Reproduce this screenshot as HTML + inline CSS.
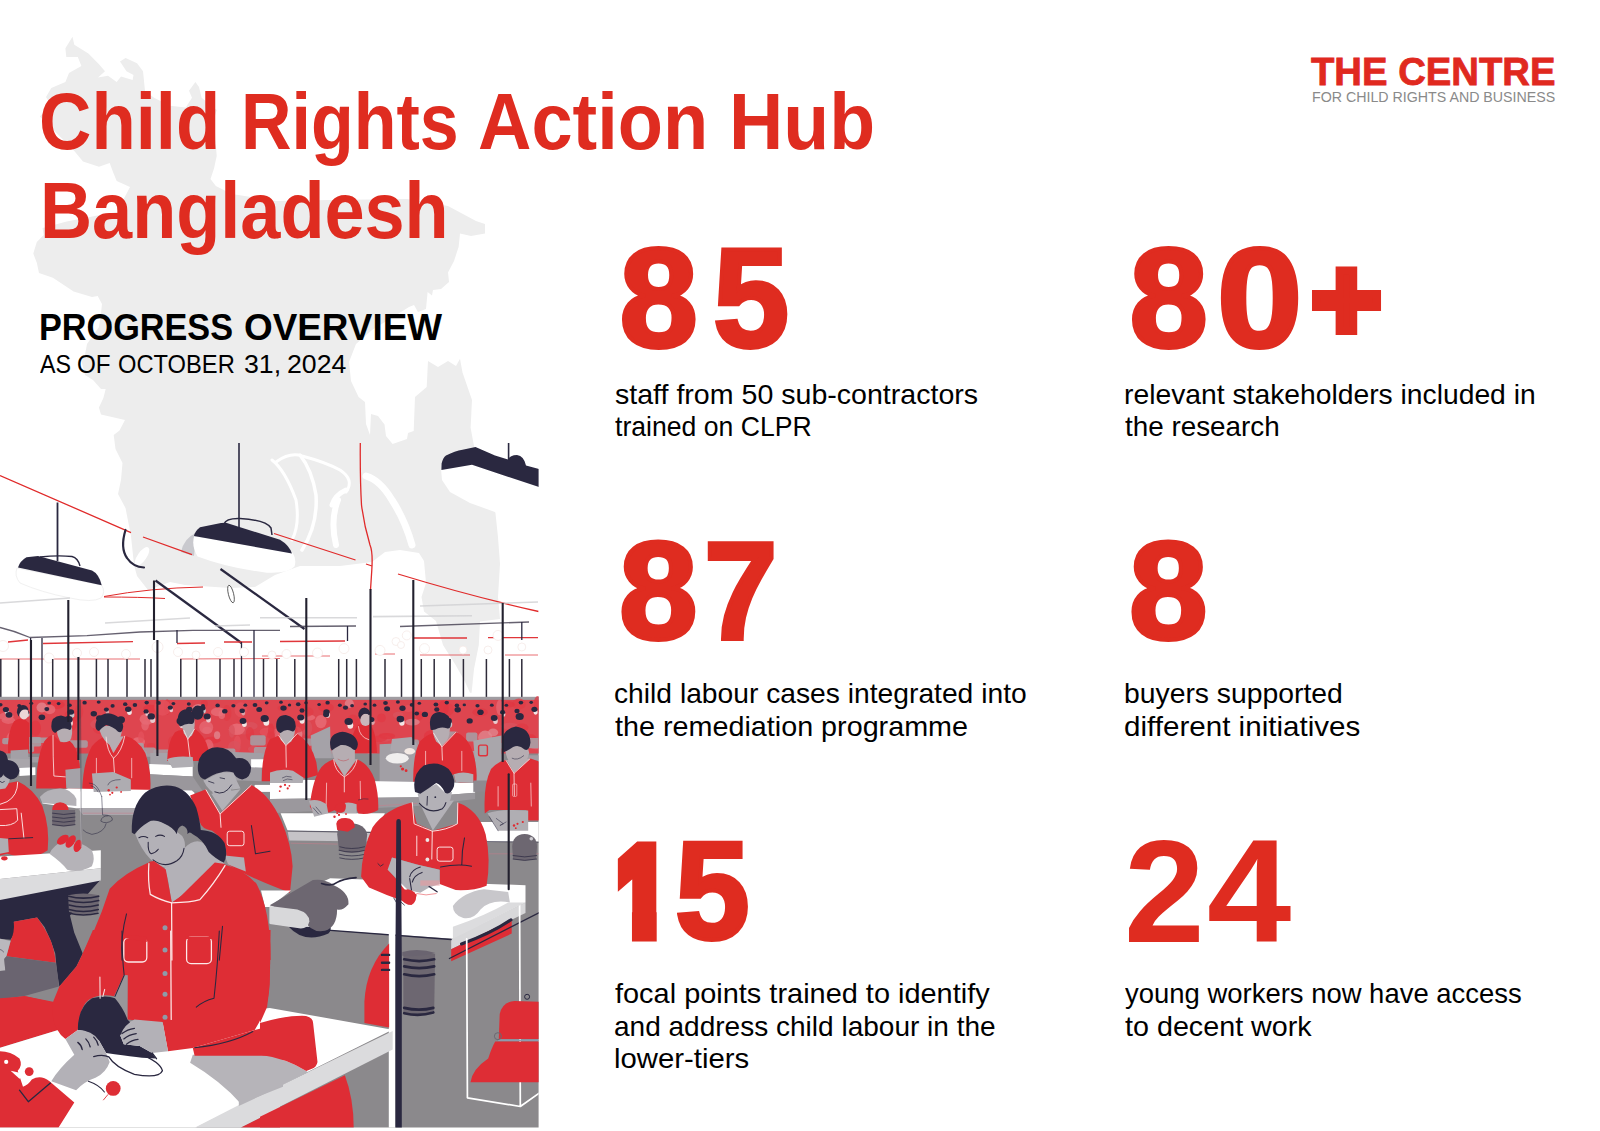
<!DOCTYPE html>
<html lang="en"><head><meta charset="utf-8"><title>Child Rights Action Hub Bangladesh</title>
<style>
html,body{margin:0;padding:0;background:#fff}
body{width:1600px;height:1131px;position:relative;overflow:hidden;font-family:"Liberation Sans",sans-serif}
.t{position:absolute;white-space:nowrap;transform-origin:0 0;margin:0;padding:0}
.n span{position:absolute;top:0;transform-origin:0 0;display:block}
svg{position:absolute;left:0;top:0}
</style></head><body>
<svg width="1600" height="1131" viewBox="0 0 1600 1131">
<defs><clipPath id="ic"><rect x="0" y="443" width="538.6" height="684.6"/></clipPath></defs>
<path fill="#ededed" d="M72.5 36.8 L74.3 44.8 L88.4 53.6 L99 64.2 L105 71.3 L98 77.5 L108 75.7 L116.7 82 L121 76.6 L132.6 80 L133.5 75 L126.5 71.3 L120 61.6 L125.6 58 L137 63.3 L143 71.3 L145 90.7 L154 97.8 L170 105.8 L185.7 107.5 L192 97.8 L189 90.7 L195.4 82 L199 87 L201.6 97.8 L216.7 110 L214 119 L215.8 143.8 L216.7 156 L214 168.6 L210.5 179 L215.8 186 L231.7 194 L276 201 L329 200 L407 199 L448 206 L476 221 L485 224 L485 233.5 L471 236 L460 233.5 L458.6 247 L454 261 L448 272.6 L449 282 L441 289 L433 290 L432 295.6 L427.6 292 L426 309 L418 312 L414 305 L409 307 L372 330 L356 344 L349 362 L351 381 L358.6 397 L365 402 L366 424 L370 435 L371 414 L378 416 L384.5 424.5 L386 436 L392.6 444 L407 439 L408 433 L413.7 431 L415 397 L426.7 387 L428 361 L438 367 L448 361 L456 366 L460 358.7 L462.5 372.5 L472 400 L470.6 427.7 L474 446 L486 470 L495.5 513.6 L498 537.5 L500 563.7 L498 597 L500 619 L480 621.5 L478.8 645 L474 669 L471.6 692.7 L470 692.7 L464.5 680.7 L455 664 L443 645 L436 621 L424 611.5 L421.5 597 L426 583 L424 561 L419 553 L400 550 L385 552 L372 562 L340 566 L300 566 L275 575 L255 587 L230 588 L200 586 L185 585 L170 582 L148 590 L137 576 L134 565 L131 536 L125.5 508 L118 494 L121 480 L122.5 463 L115.5 449 L113.7 435 L119.5 430.6 L125 420 L101 414.5 L98.9 407.6 L103.4 398 L105.7 389 L101 389 L93 380 L85 375 L81.6 361.6 L85 354.7 L87 344 L99 327 L101 313 L102 304 L97.7 296 L92 297 L73.6 291.5 L52.9 277.7 L39 273 L36.8 262.8 L33.3 253.6 L36.8 242 L43.7 235 L42.5 228 L66.7 221.4 L100 215 L122 211 L124 198.6 L130 187 L116.7 181 L113 172 L109.7 163 L99 166.8 L83 161.5 L74.3 151 L58.4 135 L39.8 116.4 L51 105 L46 97 L51.3 88 L65.4 82 L69 73 L81.4 66 L77.8 57.1 L66.3 57.1 L65.4 48.3 Z"/>
<g clip-path="url(#ic)">
<g fill="none" stroke="#fff" stroke-linecap="round" stroke-linejoin="round">
<path stroke-width="3" d="M272 460 Q285 470 296 500 Q300 525 292 540"/>
<path stroke-width="3.5" d="M300 455 Q312 470 316 495 Q318 525 302 550"/>
<path stroke-width="3" d="M276 462 Q290 452 302 456 Q325 462 340 470 Q355 480 346 492"/>
<path stroke-width="6" d="M338 500 Q330 520 336 545"/>
<path stroke-width="7" d="M366 476 Q380 480 392 500 Q405 520 412 545"/>
<path stroke-width="5" d="M346 490 Q335 495 332 505"/>
</g>
<path fill="#fff" d="M140 575 L160 590 L200 592 L300 560 L372 560 L414 552 L420 600 L440 660 L0 660 L0 575 Z" opacity="0"/>
<path fill="#fff" d="M441 469 L472 464 L539 486 L539 528 L520 521 L470 503 L450 492 L442 480 Z"/>
<path fill="#2a2840" d="M441.4 470 L441.6 463.5 Q443 457.5 446 455.4 Q455 451 462.5 449.7 L475.5 447 L495 455.4 L508 459.6 Q510 455 517 455 Q524 456 526 465.5 L539 469 L539 487 L472 464.8 Z"/>
<path stroke="#2a2840" stroke-width="1.6" fill="none" d="M508.6 443 V461"/>
<path fill="#c9c9ce" d="M196 533 Q184 538 181 552 L194 556 Z"/>
<path fill="#fff" d="M194.1 536.3 Q191.3 546.5 197.6 556.4 Q227.3 567.7 266.9 572.7 Q288.2 573.7 294.5 566.6 Q296.9 559.2 292.4 552.4 Z"/>
<path fill="#2a2840" d="M194 536 Q195 531 200 527.3 L221 523 L226 522.7 L280 539.7 Q289 545 292 553.5 Z"/>
<path stroke="#2a2840" stroke-width="1.6" fill="none" d="M239 443 V529"/>
<path stroke="#2a2840" stroke-width="1.5" fill="none" d="M224 524 Q226 518 240 518.5 Q266 520 271 528 L272 535"/>
<path fill="#fff" stroke="#f1f1f1" stroke-width="1" d="M17 568 L101.5 585 Q106 592 101 598 Q92 603 70 598 Q40 592 20 583 Q14 576 17 568 Z"/>
<path fill="#2a2840" d="M18 567.5 Q20 561 26.5 557.3 L38 556 L92 570.6 Q99 574 101.7 585.3 Z"/>
<path stroke="#2a2840" stroke-width="1.8" fill="none" d="M57.5 502.5 V561"/>
<path stroke="#2a2840" stroke-width="1.4" fill="none" d="M40 557 Q58 555 72 556.5 Q78 558 80 566"/>
<g fill="none" stroke="#e02a2a" stroke-width="1.3">
<path d="M0 475.5 L131 532.6 M143 537 L192 554.7"/>
<path d="M274 533.5 L355.5 560 M366 564 L372 566"/>
<path d="M398 574 Q470 596 538.6 611.5"/>
<path d="M360.3 443 Q360 480 361.5 505 Q364 525 370 545 Q373 552 371.8 570 L370.5 590"/>
<path stroke-width="1" d="M104 596.5 Q150 588 203 587 M104 597 Q140 597 165 598.5"/>
</g>
<ellipse cx="142" cy="556.5" rx="4.5" ry="11" transform="rotate(35 142 556.5)" fill="#fff"/>
<path stroke="#2a2840" stroke-width="2.2" fill="none" stroke-linecap="round" d="M125.5 530 Q120 548 127 558 Q133 567 144 567.5"/>
<ellipse cx="231" cy="594" rx="2.6" ry="9" transform="rotate(-14 231 594)" fill="#fff" stroke="#444" stroke-width="0.8"/>
<g stroke="#2a2840" stroke-width="2.2" fill="none"><path d="M155.5 580.5 L241.5 643"/><path d="M220.5 569 L304.5 629"/></g>
<g fill="none" stroke="#555060" stroke-width="1.3" opacity="0.9">
<path d="M0 627.5 Q15 631 30 637.5 L87 635.6 L140 632 L193 630.4 L280 630.4"/>
<path d="M290 626.5 L356 626 M400 626.5 L529 622"/>
</g>
<g fill="none" stroke="#cfcfd2" stroke-width="1.6" opacity="0.8">
<path d="M0 603 L70 598 M105 623 L190 618 M215 626 L250 625 M260 617.7 L357 617.7 M373 616.6 L472 615.7 M420 606 L538 602"/>
</g>
<g fill="none" stroke="#e0363a" stroke-width="1.3">
<path d="M43 643.5 L133 641.7 M177 643.5 L205 643 M224 642 L252 642 M280 641.5 L345 641 M414 638 L467 638 M488 637.7 L538 637.7 M8 642 L28 640"/>
<path stroke-width="0.9" opacity="0.8" d="M0 659 L140 659 M180 659 L280 658.5 M262 656 L330 656 M375 654 L395 654 M420 655 L470 655 M505 655 L538 655"/>
</g>
<g stroke="#2a2840" stroke-width="1.3" fill="none">
<path d="M30.6 638 V697"/>
<path d="M42 638 V697"/>
<path d="M347.5 626 V641"/>
<path d="M177 630 V643"/>
<path d="M254 630 V697"/>
<path d="M241.5 642 V697"/>
<path d="M521.8 622 V640"/>
</g>
<g fill="#fff" stroke="#f3e6e4" stroke-width="0.7">
<circle cx="3" cy="646" r="5.5"/>
<circle cx="49" cy="658" r="5"/>
<circle cx="77" cy="653" r="4.5"/>
<circle cx="94" cy="652" r="4.5"/>
<circle cx="126" cy="654" r="4.5"/>
<circle cx="157.5" cy="647" r="5.5"/>
<circle cx="178" cy="652" r="4.5"/>
<circle cx="196" cy="655" r="4"/>
<circle cx="218" cy="652" r="4.5"/>
<circle cx="244" cy="652" r="4.5"/>
<circle cx="272" cy="655" r="4"/>
<circle cx="286.5" cy="654" r="4.5"/>
<circle cx="317.5" cy="653" r="5"/>
<circle cx="344" cy="648.6" r="5"/>
<circle cx="380" cy="650.4" r="5"/>
<circle cx="396" cy="641.5" r="4"/>
<circle cx="406.8" cy="635.4" r="4.5"/>
<circle cx="401" cy="645" r="3.5"/>
<circle cx="424.5" cy="648.6" r="5"/>
<circle cx="463" cy="650" r="4"/>
<circle cx="488" cy="650" r="4"/>
<circle cx="498" cy="635.4" r="5"/>
<circle cx="521.8" cy="647" r="4"/>
</g>
<!--BP-->
<g stroke="#2e2b39" stroke-width="1.5" fill="none">
<path d="M18.6 659 V698"/>
<path d="M52.7 659 V698"/>
<path d="M96.4 659 V698"/>
<path d="M108 659 V698"/>
<path d="M127 659 V698"/>
<path d="M145 659 V698"/>
<path d="M151 659 V698"/>
<path d="M180.8 659 V698"/>
<path d="M196.7 659 V698"/>
<path d="M220 659 V698"/>
<path d="M234 659 V698"/>
<path d="M263.5 659 V698"/>
<path d="M276.8 659 V698"/>
<path d="M294.8 659 V698"/>
<path d="M338.7 659 V698"/>
<path d="M346.7 659 V698"/>
<path d="M356.4 659 V698"/>
<path d="M385 659 V698"/>
<path d="M401.5 659 V698"/>
<path d="M421.3 659 V698"/>
<path d="M434.2 659 V698"/>
<path d="M450 659 V698"/>
<path d="M463.4 659 V698"/>
<path d="M486.4 659 V698"/>
<path d="M509.4 659 V698"/>
<path d="M521.8 659 V698"/>
<path d="M0.8 659 V698"/>
</g>
<rect x="0" y="697" width="539" height="431" fill="#8b898c"/>
<rect x="0" y="699.5" width="539" height="54" fill="#de454f"/>
<rect x="0" y="696.8" width="539" height="3" fill="#a09da2"/>
<ellipse cx="243.8" cy="729.3" rx="8.5" ry="5.3" fill="#d9535e" opacity="0.75"/>
<ellipse cx="99.5" cy="727.1" rx="6.8" ry="7.0" fill="#e03a44" opacity="0.75"/>
<ellipse cx="240.7" cy="709.7" rx="6.2" ry="7.5" fill="#e4525c" opacity="0.75"/>
<ellipse cx="320.9" cy="721.6" rx="5.7" ry="6.7" fill="#e8707a" opacity="0.75"/>
<ellipse cx="335.9" cy="742.1" rx="3.4" ry="3.2" fill="#d9535e" opacity="0.75"/>
<ellipse cx="323.2" cy="739.6" rx="5.0" ry="6.0" fill="#d9535e" opacity="0.75"/>
<ellipse cx="279.8" cy="733.1" rx="6.0" ry="6.3" fill="#e66a74" opacity="0.75"/>
<ellipse cx="352.9" cy="722.1" rx="6.3" ry="7.7" fill="#e03a44" opacity="0.75"/>
<ellipse cx="381.5" cy="717.8" rx="4.4" ry="4.4" fill="#e03a44" opacity="0.75"/>
<ellipse cx="303.5" cy="708.1" rx="3.6" ry="4.5" fill="#e03a44" opacity="0.75"/>
<ellipse cx="516.4" cy="742.8" rx="3.0" ry="4.0" fill="#e4525c" opacity="0.75"/>
<ellipse cx="253.3" cy="749.1" rx="5.4" ry="3.4" fill="#d9535e" opacity="0.75"/>
<ellipse cx="419.6" cy="715.7" rx="3.5" ry="4.7" fill="#e23540" opacity="0.75"/>
<ellipse cx="408.6" cy="708.5" rx="4.5" ry="3.5" fill="#e4525c" opacity="0.75"/>
<ellipse cx="250.6" cy="725.9" rx="7.1" ry="3.9" fill="#d9535e" opacity="0.75"/>
<ellipse cx="531.1" cy="739.2" rx="5.5" ry="4.9" fill="#e23540" opacity="0.75"/>
<ellipse cx="226.8" cy="713.0" rx="4.6" ry="7.9" fill="#e03c46" opacity="0.75"/>
<ellipse cx="537.9" cy="703.9" rx="4.1" ry="8.0" fill="#e03a44" opacity="0.75"/>
<ellipse cx="22.7" cy="709.9" rx="5.6" ry="3.0" fill="#e08a92" opacity="0.75"/>
<ellipse cx="447.5" cy="721.1" rx="3.4" ry="4.0" fill="#d9535e" opacity="0.75"/>
<ellipse cx="8.4" cy="720.3" rx="6.7" ry="3.6" fill="#e66a74" opacity="0.75"/>
<ellipse cx="448.6" cy="709.4" rx="5.3" ry="6.1" fill="#e03c46" opacity="0.75"/>
<ellipse cx="489.6" cy="741.4" rx="4.5" ry="3.9" fill="#d9535e" opacity="0.75"/>
<ellipse cx="370.3" cy="721.2" rx="5.9" ry="3.4" fill="#e4525c" opacity="0.75"/>
<ellipse cx="56.0" cy="704.8" rx="8.8" ry="4.2" fill="#e23540" opacity="0.75"/>
<ellipse cx="138.5" cy="741.7" rx="6.6" ry="4.5" fill="#e8707a" opacity="0.75"/>
<ellipse cx="500.9" cy="748.9" rx="3.8" ry="5.4" fill="#e03a44" opacity="0.75"/>
<ellipse cx="151.0" cy="746.1" rx="4.2" ry="3.1" fill="#e03c46" opacity="0.75"/>
<ellipse cx="221.8" cy="714.7" rx="3.3" ry="4.4" fill="#e8707a" opacity="0.75"/>
<ellipse cx="49.7" cy="709.5" rx="5.7" ry="4.7" fill="#e8707a" opacity="0.75"/>
<ellipse cx="317.9" cy="746.4" rx="5.8" ry="4.8" fill="#e03c46" opacity="0.75"/>
<ellipse cx="518.9" cy="704.0" rx="6.8" ry="5.4" fill="#e03c46" opacity="0.75"/>
<ellipse cx="171.9" cy="750.0" rx="3.5" ry="5.7" fill="#e4525c" opacity="0.75"/>
<ellipse cx="485.2" cy="737.6" rx="7.2" ry="7.0" fill="#e08a92" opacity="0.75"/>
<ellipse cx="189.6" cy="735.2" rx="8.4" ry="7.4" fill="#e23540" opacity="0.75"/>
<ellipse cx="508.9" cy="704.4" rx="6.0" ry="3.1" fill="#e23540" opacity="0.75"/>
<ellipse cx="204.4" cy="703.6" rx="3.4" ry="3.5" fill="#e03a44" opacity="0.75"/>
<ellipse cx="535.4" cy="744.4" rx="7.4" ry="4.9" fill="#e66a74" opacity="0.75"/>
<ellipse cx="237.4" cy="742.4" rx="3.5" ry="6.8" fill="#e4525c" opacity="0.75"/>
<ellipse cx="167.2" cy="707.1" rx="3.1" ry="7.8" fill="#e03a44" opacity="0.75"/>
<ellipse cx="268.0" cy="731.9" rx="8.5" ry="4.3" fill="#e4525c" opacity="0.75"/>
<ellipse cx="198.3" cy="709.7" rx="6.7" ry="5.6" fill="#e08a92" opacity="0.75"/>
<ellipse cx="355.7" cy="723.8" rx="8.4" ry="4.6" fill="#e03c46" opacity="0.75"/>
<ellipse cx="107.0" cy="723.3" rx="7.8" ry="7.6" fill="#d9535e" opacity="0.75"/>
<ellipse cx="207.2" cy="730.4" rx="4.9" ry="3.7" fill="#e66a74" opacity="0.75"/>
<ellipse cx="189.1" cy="745.1" rx="3.2" ry="3.3" fill="#e03c46" opacity="0.75"/>
<ellipse cx="443.0" cy="708.3" rx="5.8" ry="7.6" fill="#e23540" opacity="0.75"/>
<ellipse cx="206.2" cy="727.4" rx="7.0" ry="6.6" fill="#e66a74" opacity="0.75"/>
<ellipse cx="172.7" cy="742.0" rx="4.7" ry="6.0" fill="#e03c46" opacity="0.75"/>
<ellipse cx="307.5" cy="717.5" rx="7.7" ry="3.1" fill="#e8707a" opacity="0.75"/>
<ellipse cx="218.4" cy="711.9" rx="7.6" ry="4.3" fill="#e8707a" opacity="0.75"/>
<ellipse cx="429.5" cy="749.2" rx="3.7" ry="3.5" fill="#e08a92" opacity="0.75"/>
<ellipse cx="516.6" cy="735.2" rx="4.2" ry="5.4" fill="#e8707a" opacity="0.75"/>
<ellipse cx="385.0" cy="738.5" rx="6.2" ry="3.2" fill="#d9535e" opacity="0.75"/>
<ellipse cx="146.8" cy="719.2" rx="7.2" ry="5.6" fill="#e8707a" opacity="0.75"/>
<ellipse cx="212.1" cy="740.2" rx="8.4" ry="3.4" fill="#e23540" opacity="0.75"/>
<ellipse cx="70.0" cy="724.3" rx="6.8" ry="7.5" fill="#e23540" opacity="0.75"/>
<ellipse cx="296.5" cy="733.7" rx="6.0" ry="7.1" fill="#e08a92" opacity="0.75"/>
<ellipse cx="249.9" cy="733.6" rx="4.2" ry="6.6" fill="#e03a44" opacity="0.75"/>
<ellipse cx="115.0" cy="745.3" rx="8.9" ry="7.9" fill="#e08a92" opacity="0.75"/>
<ellipse cx="141.2" cy="736.8" rx="3.1" ry="5.5" fill="#e4525c" opacity="0.75"/>
<ellipse cx="237.6" cy="728.9" rx="7.6" ry="5.4" fill="#e4525c" opacity="0.75"/>
<ellipse cx="117.7" cy="743.8" rx="5.6" ry="3.2" fill="#e08a92" opacity="0.75"/>
<ellipse cx="370.1" cy="746.1" rx="5.8" ry="8.0" fill="#e66a74" opacity="0.75"/>
<ellipse cx="509.8" cy="726.2" rx="8.7" ry="3.4" fill="#d9535e" opacity="0.75"/>
<ellipse cx="236.8" cy="729.3" rx="8.0" ry="5.8" fill="#e8707a" opacity="0.75"/>
<ellipse cx="281.8" cy="742.7" rx="6.4" ry="4.6" fill="#e23540" opacity="0.75"/>
<ellipse cx="514.6" cy="743.9" rx="6.7" ry="4.5" fill="#e8707a" opacity="0.75"/>
<ellipse cx="522.0" cy="727.6" rx="6.4" ry="4.0" fill="#e03a44" opacity="0.75"/>
<ellipse cx="271.2" cy="731.4" rx="3.2" ry="7.8" fill="#e23540" opacity="0.75"/>
<ellipse cx="293.2" cy="749.5" rx="3.7" ry="3.5" fill="#e8707a" opacity="0.75"/>
<ellipse cx="35.5" cy="728.3" rx="5.5" ry="7.8" fill="#e23540" opacity="0.75"/>
<ellipse cx="145.1" cy="725.2" rx="3.8" ry="5.2" fill="#e66a74" opacity="0.75"/>
<ellipse cx="283.0" cy="708.1" rx="5.5" ry="3.1" fill="#e03c46" opacity="0.75"/>
<ellipse cx="69.8" cy="739.6" rx="3.1" ry="4.0" fill="#d9535e" opacity="0.75"/>
<ellipse cx="6.4" cy="716.4" rx="7.3" ry="4.2" fill="#e66a74" opacity="0.75"/>
<ellipse cx="56.5" cy="737.4" rx="3.7" ry="5.6" fill="#e03c46" opacity="0.75"/>
<ellipse cx="386.8" cy="736.0" rx="8.3" ry="3.1" fill="#e23540" opacity="0.75"/>
<ellipse cx="444.8" cy="731.9" rx="6.2" ry="7.3" fill="#d9535e" opacity="0.75"/>
<ellipse cx="285.5" cy="743.0" rx="6.7" ry="7.3" fill="#d9535e" opacity="0.75"/>
<ellipse cx="493.1" cy="732.5" rx="5.1" ry="3.9" fill="#e08a92" opacity="0.75"/>
<ellipse cx="480.1" cy="712.2" rx="7.7" ry="4.0" fill="#e03a44" opacity="0.75"/>
<ellipse cx="72.2" cy="714.2" rx="7.4" ry="4.3" fill="#e03a44" opacity="0.75"/>
<ellipse cx="234.4" cy="747.2" rx="6.3" ry="6.5" fill="#d9535e" opacity="0.75"/>
<ellipse cx="217.1" cy="735.2" rx="3.1" ry="4.0" fill="#e08a92" opacity="0.75"/>
<ellipse cx="491.2" cy="748.5" rx="3.7" ry="5.5" fill="#e08a92" opacity="0.75"/>
<ellipse cx="271.0" cy="735.2" rx="4.1" ry="3.4" fill="#e03a44" opacity="0.75"/>
<ellipse cx="13.1" cy="738.8" rx="6.7" ry="7.5" fill="#e66a74" opacity="0.75"/>
<ellipse cx="79.0" cy="711.7" rx="4.2" ry="7.2" fill="#e03c46" opacity="0.75"/>
<ellipse cx="499.6" cy="707.5" rx="3.4" ry="7.8" fill="#e66a74" opacity="0.75"/>
<ellipse cx="41.8" cy="707.5" rx="5.3" ry="5.1" fill="#e08a92" opacity="0.75"/>
<ellipse cx="231.8" cy="731.2" rx="3.1" ry="6.5" fill="#d9535e" opacity="0.75"/>
<ellipse cx="97.7" cy="724.3" rx="7.4" ry="5.0" fill="#d9535e" opacity="0.75"/>
<ellipse cx="326.0" cy="707.5" rx="7.8" ry="4.6" fill="#e03a44" opacity="0.75"/>
<ellipse cx="432.1" cy="736.1" rx="8.2" ry="6.1" fill="#e23540" opacity="0.75"/>
<ellipse cx="307.1" cy="712.0" rx="6.5" ry="4.7" fill="#e03c46" opacity="0.75"/>
<ellipse cx="150.7" cy="708.5" rx="7.5" ry="3.8" fill="#e23540" opacity="0.75"/>
<ellipse cx="71.8" cy="718.5" rx="6.2" ry="4.8" fill="#e23540" opacity="0.75"/>
<ellipse cx="412.5" cy="722.1" rx="7.3" ry="3.4" fill="#e08a92" opacity="0.75"/>
<ellipse cx="162.6" cy="707.7" rx="8.3" ry="8.0" fill="#e4525c" opacity="0.75"/>
<ellipse cx="125.1" cy="747.4" rx="7.0" ry="4.7" fill="#e23540" opacity="0.75"/>
<ellipse cx="307.0" cy="728.1" rx="5.3" ry="8.0" fill="#d9535e" opacity="0.75"/>
<ellipse cx="378.0" cy="738.8" rx="8.9" ry="3.1" fill="#e03a44" opacity="0.75"/>
<ellipse cx="398.2" cy="715.1" rx="5.4" ry="3.3" fill="#d9535e" opacity="0.75"/>
<ellipse cx="349.3" cy="703.5" rx="4.6" ry="4.4" fill="#e08a92" opacity="0.75"/>
<ellipse cx="296.5" cy="726.9" rx="8.8" ry="5.8" fill="#e03a44" opacity="0.75"/>
<ellipse cx="343.9" cy="741.0" rx="3.5" ry="6.0" fill="#e4525c" opacity="0.75"/>
<ellipse cx="208.3" cy="747.1" rx="5.3" ry="7.9" fill="#e66a74" opacity="0.75"/>
<ellipse cx="292.1" cy="731.0" rx="5.6" ry="5.5" fill="#e03c46" opacity="0.75"/>
<ellipse cx="283.9" cy="731.1" rx="5.2" ry="4.4" fill="#e03c46" opacity="0.75"/>
<rect x="291.5" y="738.6" width="21.5" height="7.1" rx="2" fill="#a5a1a7" opacity="0.85"/>
<rect x="2.2" y="738.1" width="10.7" height="6.1" rx="2" fill="#a5a1a7" opacity="0.85"/>
<rect x="394.6" y="739.6" width="24.4" height="10.2" rx="2" fill="#a5a1a7" opacity="0.85"/>
<rect x="14.5" y="757.0" width="25.1" height="5.5" rx="2" fill="#a5a1a7" opacity="0.85"/>
<rect x="479.3" y="739.8" width="17.6" height="11.8" rx="2" fill="#a5a1a7" opacity="0.85"/>
<rect x="118.9" y="743.1" width="25.0" height="10.1" rx="2" fill="#a5a1a7" opacity="0.85"/>
<rect x="240.9" y="754.9" width="23.1" height="9.2" rx="2" fill="#a5a1a7" opacity="0.85"/>
<rect x="53.4" y="747.4" width="17.3" height="6.4" rx="2" fill="#a5a1a7" opacity="0.85"/>
<rect x="22.1" y="744.2" width="12.0" height="8.1" rx="2" fill="#a5a1a7" opacity="0.85"/>
<rect x="352.9" y="741.9" width="14.2" height="9.1" rx="2" fill="#a5a1a7" opacity="0.85"/>
<rect x="216.9" y="748.5" width="18.5" height="12.0" rx="2" fill="#a5a1a7" opacity="0.85"/>
<rect x="506.6" y="750.5" width="13.8" height="5.8" rx="2" fill="#a5a1a7" opacity="0.85"/>
<rect x="471.2" y="750.9" width="20.0" height="7.5" rx="2" fill="#a5a1a7" opacity="0.85"/>
<rect x="136.8" y="747.6" width="19.0" height="9.1" rx="2" fill="#a5a1a7" opacity="0.85"/>
<rect x="334.7" y="750.5" width="13.0" height="6.7" rx="2" fill="#a5a1a7" opacity="0.85"/>
<rect x="516.0" y="755.3" width="24.1" height="5.3" rx="2" fill="#a5a1a7" opacity="0.85"/>
<rect x="24.4" y="737.1" width="16.8" height="9.4" rx="2" fill="#a5a1a7" opacity="0.85"/>
<rect x="49.7" y="745.7" width="11.2" height="5.6" rx="2" fill="#a5a1a7" opacity="0.85"/>
<rect x="354.5" y="745.0" width="20.1" height="7.6" rx="2" fill="#a5a1a7" opacity="0.85"/>
<rect x="250.2" y="735.2" width="15.5" height="10.2" rx="2" fill="#a5a1a7" opacity="0.85"/>
<rect x="446.0" y="731.5" width="11.9" height="10.7" rx="2" fill="#a5a1a7" opacity="0.85"/>
<rect x="329.5" y="750.2" width="13.4" height="8.0" rx="2" fill="#a5a1a7" opacity="0.85"/>
<rect x="131.1" y="750.5" width="15.9" height="9.6" rx="2" fill="#a5a1a7" opacity="0.85"/>
<rect x="523.8" y="738.0" width="18.8" height="10.2" rx="2" fill="#a5a1a7" opacity="0.85"/>
<rect x="488.4" y="742.9" width="15.9" height="5.7" rx="2" fill="#a5a1a7" opacity="0.85"/>
<rect x="466.1" y="732.5" width="11.3" height="8.9" rx="2" fill="#a5a1a7" opacity="0.85"/>
<rect x="253.9" y="746.9" width="14.8" height="10.4" rx="2" fill="#a5a1a7" opacity="0.85"/>
<rect x="30.7" y="737.5" width="20.6" height="5.6" rx="2" fill="#a5a1a7" opacity="0.85"/>
<rect x="153.2" y="749.6" width="21.1" height="7.0" rx="2" fill="#a5a1a7" opacity="0.85"/>
<rect x="66.2" y="740.2" width="21.6" height="7.6" rx="2" fill="#a5a1a7" opacity="0.85"/>
<ellipse cx="0.5" cy="704.8" rx="2.1" ry="1.7" fill="#2a2840"/>
<ellipse cx="19.2" cy="705.7" rx="2.0" ry="1.7" fill="#2a2840"/>
<ellipse cx="31.3" cy="703.3" rx="1.9" ry="1.6" fill="#2a2840"/>
<ellipse cx="49.2" cy="703.0" rx="1.9" ry="1.6" fill="#2a2840"/>
<ellipse cx="58.6" cy="703.6" rx="1.9" ry="1.6" fill="#2a2840"/>
<ellipse cx="69.8" cy="705.2" rx="2.0" ry="1.7" fill="#2a2840"/>
<ellipse cx="84.6" cy="702.7" rx="2.2" ry="1.9" fill="#2a2840"/>
<ellipse cx="98.7" cy="702.1" rx="2.0" ry="1.7" fill="#2a2840"/>
<ellipse cx="112.6" cy="705.9" rx="2.1" ry="1.8" fill="#2a2840"/>
<ellipse cx="125.2" cy="704.2" rx="2.2" ry="1.9" fill="#2a2840"/>
<ellipse cx="134.9" cy="704.9" rx="2.3" ry="2.0" fill="#2a2840"/>
<ellipse cx="146.7" cy="702.6" rx="2.2" ry="1.9" fill="#2a2840"/>
<ellipse cx="158.7" cy="702.9" rx="2.2" ry="1.9" fill="#2a2840"/>
<ellipse cx="173.4" cy="703.6" rx="1.9" ry="1.6" fill="#2a2840"/>
<ellipse cx="188.8" cy="704.0" rx="2.0" ry="1.7" fill="#2a2840"/>
<ellipse cx="203.0" cy="705.7" rx="1.9" ry="1.6" fill="#2a2840"/>
<ellipse cx="217.6" cy="705.4" rx="2.2" ry="1.9" fill="#2a2840"/>
<ellipse cx="233.4" cy="705.8" rx="2.1" ry="1.8" fill="#2a2840"/>
<ellipse cx="245.3" cy="705.2" rx="1.9" ry="1.6" fill="#2a2840"/>
<ellipse cx="255.0" cy="705.0" rx="2.4" ry="2.0" fill="#2a2840"/>
<ellipse cx="266.7" cy="702.8" rx="1.9" ry="1.6" fill="#2a2840"/>
<ellipse cx="281.0" cy="702.2" rx="1.8" ry="1.6" fill="#2a2840"/>
<ellipse cx="289.5" cy="705.1" rx="1.7" ry="1.5" fill="#2a2840"/>
<ellipse cx="298.2" cy="704.3" rx="2.3" ry="2.0" fill="#2a2840"/>
<ellipse cx="306.0" cy="702.7" rx="1.8" ry="1.5" fill="#2a2840"/>
<ellipse cx="319.1" cy="704.4" rx="1.8" ry="1.5" fill="#2a2840"/>
<ellipse cx="327.6" cy="702.7" rx="2.2" ry="1.9" fill="#2a2840"/>
<ellipse cx="339.9" cy="705.3" rx="2.0" ry="1.7" fill="#2a2840"/>
<ellipse cx="352.1" cy="705.7" rx="1.9" ry="1.6" fill="#2a2840"/>
<ellipse cx="365.2" cy="703.9" rx="1.8" ry="1.5" fill="#2a2840"/>
<ellipse cx="374.5" cy="705.2" rx="1.9" ry="1.6" fill="#2a2840"/>
<ellipse cx="385.5" cy="703.1" rx="2.4" ry="2.0" fill="#2a2840"/>
<ellipse cx="397.9" cy="702.0" rx="2.0" ry="1.7" fill="#2a2840"/>
<ellipse cx="411.8" cy="704.9" rx="2.1" ry="1.8" fill="#2a2840"/>
<ellipse cx="419.3" cy="703.3" rx="1.8" ry="1.5" fill="#2a2840"/>
<ellipse cx="435.9" cy="704.5" rx="2.4" ry="2.0" fill="#2a2840"/>
<ellipse cx="446.8" cy="702.6" rx="2.2" ry="1.9" fill="#2a2840"/>
<ellipse cx="456.9" cy="705.4" rx="2.3" ry="1.9" fill="#2a2840"/>
<ellipse cx="464.3" cy="704.9" rx="1.7" ry="1.4" fill="#2a2840"/>
<ellipse cx="477.5" cy="705.8" rx="2.1" ry="1.8" fill="#2a2840"/>
<ellipse cx="491.8" cy="705.2" rx="1.9" ry="1.6" fill="#2a2840"/>
<ellipse cx="506.4" cy="705.3" rx="1.8" ry="1.5" fill="#2a2840"/>
<ellipse cx="520.9" cy="702.6" rx="2.3" ry="1.9" fill="#2a2840"/>
<ellipse cx="531.2" cy="702.3" rx="1.8" ry="1.6" fill="#2a2840"/>
<ellipse cx="7.1" cy="712.3" rx="2.2" ry="2.6" fill="#c7c5ca"/>
<ellipse cx="5.9" cy="709.5" rx="3.1" ry="2.6" fill="#2a2840"/>
<ellipse cx="27.8" cy="714.8" rx="1.8" ry="2.1" fill="#c7c5ca"/>
<ellipse cx="26.7" cy="712.5" rx="2.5" ry="2.1" fill="#2a2840"/>
<ellipse cx="46.8" cy="709.1" rx="2.5" ry="2.1" fill="#2a2840"/>
<ellipse cx="72.1" cy="715.0" rx="2.3" ry="2.8" fill="#c7c5ca"/>
<ellipse cx="70.8" cy="712.0" rx="3.3" ry="2.8" fill="#2a2840"/>
<ellipse cx="93.8" cy="713.7" rx="3.2" ry="2.7" fill="#2a2840"/>
<ellipse cx="107.4" cy="711.9" rx="1.8" ry="2.1" fill="#d9a3a8"/>
<ellipse cx="106.4" cy="709.6" rx="2.5" ry="2.1" fill="#2a2840"/>
<ellipse cx="129.5" cy="712.2" rx="2.3" ry="2.7" fill="#f2e6e6"/>
<ellipse cx="128.2" cy="709.3" rx="3.2" ry="2.7" fill="#2a2840"/>
<ellipse cx="147.1" cy="713.7" rx="1.8" ry="2.2" fill="#e9c9cc"/>
<ellipse cx="146.1" cy="711.4" rx="2.6" ry="2.2" fill="#2a2840"/>
<ellipse cx="171.3" cy="710.0" rx="1.8" ry="2.2" fill="#e9c9cc"/>
<ellipse cx="170.3" cy="707.6" rx="2.6" ry="2.2" fill="#2a2840"/>
<ellipse cx="189.3" cy="709.4" rx="3.2" ry="2.7" fill="#2a2840"/>
<ellipse cx="203.7" cy="710.8" rx="2.2" ry="2.6" fill="#c7c5ca"/>
<ellipse cx="202.4" cy="708.0" rx="3.1" ry="2.6" fill="#2a2840"/>
<ellipse cx="224.8" cy="711.3" rx="2.7" ry="2.3" fill="#2a2840"/>
<ellipse cx="243.3" cy="713.1" rx="1.9" ry="2.3" fill="#d9a3a8"/>
<ellipse cx="242.2" cy="710.7" rx="2.7" ry="2.3" fill="#2a2840"/>
<ellipse cx="259.2" cy="709.6" rx="2.9" ry="2.5" fill="#2a2840"/>
<ellipse cx="283.5" cy="708.1" rx="3.2" ry="2.7" fill="#2a2840"/>
<ellipse cx="302.0" cy="710.5" rx="2.5" ry="2.2" fill="#2a2840"/>
<ellipse cx="327.8" cy="714.9" rx="2.3" ry="2.8" fill="#e9c9cc"/>
<ellipse cx="326.5" cy="712.0" rx="3.2" ry="2.8" fill="#2a2840"/>
<ellipse cx="345.5" cy="707.6" rx="2.6" ry="2.2" fill="#2a2840"/>
<ellipse cx="368.1" cy="716.0" rx="1.9" ry="2.3" fill="#e9c9cc"/>
<ellipse cx="367.0" cy="713.5" rx="2.8" ry="2.3" fill="#2a2840"/>
<ellipse cx="387.1" cy="708.7" rx="3.0" ry="2.5" fill="#2a2840"/>
<ellipse cx="402.5" cy="708.2" rx="3.1" ry="2.7" fill="#2a2840"/>
<ellipse cx="416.7" cy="713.5" rx="2.4" ry="2.0" fill="#2a2840"/>
<ellipse cx="436.8" cy="709.5" rx="2.6" ry="2.2" fill="#2a2840"/>
<ellipse cx="457.7" cy="709.8" rx="3.2" ry="2.7" fill="#2a2840"/>
<ellipse cx="480.5" cy="712.3" rx="3.2" ry="2.8" fill="#2a2840"/>
<ellipse cx="503.6" cy="714.6" rx="1.8" ry="2.2" fill="#e9c9cc"/>
<ellipse cx="502.6" cy="712.3" rx="2.6" ry="2.2" fill="#2a2840"/>
<ellipse cx="517.0" cy="711.0" rx="2.6" ry="2.2" fill="#2a2840"/>
<ellipse cx="535.6" cy="712.1" rx="2.1" ry="2.6" fill="#f2e6e6"/>
<ellipse cx="534.4" cy="709.3" rx="3.0" ry="2.6" fill="#2a2840"/>
<ellipse cx="9.0" cy="714.8" rx="3.4" ry="2.9" fill="#2a2840"/>
<ellipse cx="41.9" cy="717.3" rx="3.3" ry="2.8" fill="#2a2840"/>
<ellipse cx="70.2" cy="723.1" rx="2.8" ry="3.4" fill="#e9c9cc"/>
<ellipse cx="68.6" cy="719.5" rx="4.0" ry="3.4" fill="#2a2840"/>
<ellipse cx="99.6" cy="718.2" rx="3.5" ry="3.0" fill="#2a2840"/>
<ellipse cx="120.9" cy="719.8" rx="4.1" ry="3.5" fill="#2a2840"/>
<ellipse cx="152.7" cy="719.8" rx="2.6" ry="3.2" fill="#e9c9cc"/>
<ellipse cx="151.2" cy="716.4" rx="3.7" ry="3.2" fill="#2a2840"/>
<ellipse cx="182.3" cy="724.7" rx="2.9" ry="3.5" fill="#e9c9cc"/>
<ellipse cx="180.7" cy="721.0" rx="4.2" ry="3.5" fill="#2a2840"/>
<ellipse cx="208.5" cy="719.6" rx="2.4" ry="3.0" fill="#e9c9cc"/>
<ellipse cx="207.1" cy="716.5" rx="3.5" ry="3.0" fill="#2a2840"/>
<ellipse cx="244.4" cy="724.1" rx="2.4" ry="2.9" fill="#f2e6e6"/>
<ellipse cx="243.0" cy="721.0" rx="3.4" ry="2.9" fill="#2a2840"/>
<ellipse cx="266.3" cy="722.2" rx="2.9" ry="3.5" fill="#f2e6e6"/>
<ellipse cx="264.7" cy="718.5" rx="4.1" ry="3.5" fill="#2a2840"/>
<ellipse cx="285.0" cy="724.3" rx="2.1" ry="2.6" fill="#d9a3a8"/>
<ellipse cx="283.8" cy="721.6" rx="3.0" ry="2.6" fill="#2a2840"/>
<ellipse cx="302.1" cy="720.7" rx="2.5" ry="3.0" fill="#f2e6e6"/>
<ellipse cx="300.7" cy="717.5" rx="3.5" ry="3.0" fill="#2a2840"/>
<ellipse cx="326.1" cy="714.4" rx="3.0" ry="2.6" fill="#2a2840"/>
<ellipse cx="350.3" cy="725.2" rx="2.9" ry="3.5" fill="#f2e6e6"/>
<ellipse cx="348.7" cy="721.5" rx="4.2" ry="3.5" fill="#2a2840"/>
<ellipse cx="372.6" cy="722.3" rx="2.1" ry="2.6" fill="#d9a3a8"/>
<ellipse cx="371.3" cy="719.5" rx="3.1" ry="2.6" fill="#2a2840"/>
<ellipse cx="401.9" cy="722.5" rx="2.7" ry="3.3" fill="#f2e6e6"/>
<ellipse cx="400.4" cy="719.1" rx="3.8" ry="3.3" fill="#2a2840"/>
<ellipse cx="424.9" cy="714.4" rx="3.1" ry="2.7" fill="#2a2840"/>
<ellipse cx="449.5" cy="724.4" rx="2.7" ry="3.3" fill="#c7c5ca"/>
<ellipse cx="448.0" cy="721.0" rx="3.9" ry="3.3" fill="#2a2840"/>
<ellipse cx="469.7" cy="720.9" rx="3.1" ry="2.7" fill="#2a2840"/>
<ellipse cx="495.5" cy="721.0" rx="2.3" ry="2.9" fill="#e9c9cc"/>
<ellipse cx="494.2" cy="718.0" rx="3.4" ry="2.9" fill="#2a2840"/>
<ellipse cx="519.7" cy="716.4" rx="4.1" ry="3.5" fill="#2a2840"/>
<path d="M 8.0 753.0 Q 7.1 731.8 14.1 721.2 Q 19.4 717.7 24.8 719.4 L 29.2 723.0 L 29.2 753.0 Z" fill="#de2d35"/>
<ellipse cx="23.9" cy="713.8" rx="4.6" ry="5.7" fill="#ecd6d7"/>
<path d="M 16.8 712.4 Q 16.8 705.3 23.0 705.0 Q 28.3 705.7 28.6 710.6 Q 26.5 708.8 23.0 709.7 Q 19.4 711.5 18.6 716.8 Z" fill="#2a2840"/>
<path d="M 10.6 750.4 L 28.3 749.5 L 28.3 761.9 L 10.6 761.9 Z" fill="#a3a0a6"/>
<path d="M 0.0 758.3 L 31.8 759.2 L 31.8 770.7 L 0.0 770.7 Z" fill="#a9a6ab"/>
<path d="M 19.4 768.1 L 35.4 767.2 L 35.4 775.1 L 19.4 776.0 Z" fill="#fff"/>
<path d="M 150.3 753.0 L 169.7 753.0 L 169.7 765.4 L 150.3 765.4 Z" fill="#a6a3a9"/>
<path d="M 210.4 751.3 L 261.7 753.0 L 261.7 781.3 L 210.4 779.6 Z" fill="#a29fa5"/>
<path d="M 251.1 759.2 L 270.0 759.2 L 270.0 768.1 L 251.1 767.2 Z" fill="#fff"/>
<ellipse cx="197.7" cy="712.7" rx="6.0" ry="7.1" fill="#2a2840"/>
<path d="M 167.1 761.0 Q 167.6 741.6 175.0 732.2 Q 179.5 729.4 183.9 730.1 L 187.8 738.5 L 194.5 728.6 Q 205.1 735.4 208.6 749.9 L 209.7 761.0 Z" fill="#de2d35"/>
<path d="M 180.7 720.3 L 194.5 719.4 Q 195.4 730.1 191.8 735.4 L 187.8 738.5 L 183.9 733.6 Z" fill="#b6adb2"/>
<path d="M 177.7 721.2 Q 177.3 709.7 186.5 709.2 Q 194.5 710.6 194.5 719.4 Q 193.8 724.8 191.0 723.9 Q 185.7 723.0 180.7 726.5 Q 177.9 725.1 177.7 721.2 Z" fill="#2a2840"/>
<path d="M 183.9 730.4 L 187.8 739.3 L 190.1 758.3 M 187.8 739.3 L 194.5 729.2" fill="none" stroke="#fdeaea" stroke-width="0.80" stroke-linecap="round" stroke-linejoin="round"/>
<path d="M 149.4 764.0 L 192.7 765.8 L 192.7 776.4 L 149.4 774.3 Z" fill="#fff"/>
<path d="M 167.1 759.2 Q 175.0 755.2 192.7 756.9 L 193.6 766.8 L 172.4 768.1 Z" fill="#b0aeb3"/>
<path d="M 149.4 774.3 L 192.7 776.4 L 203.3 791.9 L 149.4 788.4 Z" fill="#9a979c"/>
<path d="M 261.7 781.3 Q 261.7 753.0 270.0 738.9 L 270.0 781.3 Z" fill="#de2d35"/>
<path d="M 254.6 784.9 L 270.0 784.9 L 270.0 791.9 L 254.6 791.9 Z" fill="#fff"/>
<path d="M 36.2 788.4 Q 36.2 758.3 44.2 741.6 Q 48.6 735.4 53.0 735.0 L 61.0 742.4 L 68.1 739.3 Q 78.7 747.7 79.9 767.2 L 79.9 788.4 Z" fill="#de2d35"/>
<path d="M 56.6 726.5 L 71.6 724.8 Q 73.4 735.4 69.8 740.7 Q 64.5 743.3 60.1 741.6 Q 56.9 735.4 56.6 729.2 Z" fill="#b6adb2"/>
<path d="M 51.3 726.5 Q 50.9 716.3 61.0 715.6 Q 70.7 716.8 71.6 726.5 Q 71.1 731.5 68.1 729.2 Q 61.9 726.5 55.2 732.9 Q 51.6 731.8 51.3 726.5 Z" fill="#2a2840"/>
<path d="M 53.0 735.4 Q 53.0 758.3 53.9 776.0 L 65.4 776.9" fill="none" stroke="#fdeaea" stroke-width="0.80" stroke-linecap="round" stroke-linejoin="round"/>
<path d="M 65.4 769.8 L 81.3 768.1 L 81.3 788.4 L 66.3 788.4 Z" fill="#a5a2a8"/>
<path d="M 82.2 790.5 Q 83.1 761.9 91.9 746.3 Q 99.0 738.0 106.1 736.2 L 113.2 753.0 L 124.1 735.4 Q 137.9 738.5 145.3 753.0 Q 151.7 770.7 150.3 790.5 Z" fill="#de2d35"/>
<path d="M 99.0 726.5 L 122.0 724.8 Q 122.9 740.7 113.2 746.3 Q 104.3 744.2 99.0 729.2 Z" fill="#b6adb2"/>
<path d="M 106.1 738.0 L 123.8 736.2 L 113.5 753.0 Z" fill="#b6adb2"/>
<path d="M 95.5 726.5 Q 95.1 715.0 107.9 713.3 Q 122.0 715.0 123.2 726.5 Q 122.4 733.9 118.1 731.8 Q 113.2 726.5 106.1 725.1 Q 101.1 728.3 99.0 731.1 Q 95.8 730.4 95.5 726.5 Z" fill="#2a2840"/>
<path d="M 106.1 737.1 Q 107.0 751.3 113.5 758.3 Q 122.0 751.3 124.7 736.2 M 113.5 758.3 L 114.4 772.5" fill="none" stroke="#fdeaea" stroke-width="0.80" stroke-linecap="round" stroke-linejoin="round"/>
<path d="M 96.4 758.3 L 96.4 774.3 M 131.7 758.3 L 131.7 777.8" fill="none" stroke="#fdeaea" stroke-width="0.66" stroke-linecap="round" stroke-linejoin="round"/>
<path d="M 68.1 788.4 L 191.8 790.5 L 194.5 792.8 L 193.6 808.2 L 76.0 808.2 L 42.4 803.4 L 42.4 795.5 Z" fill="#fff"/>
<path d="M 77.8 808.2 L 193.6 808.2 L 193.6 814.9 L 83.1 814.9 Z" fill="#aaa6ac"/>
<path d="M 83.1 813.2 L 193.6 813.2" fill="none" stroke="#c77d8a" stroke-width="0.53" stroke-linecap="round" stroke-linejoin="round"/>
<path d="M 39.8 796.9 Q 46.0 788.8 60.1 788.4 Q 71.6 788.8 76.4 799.0 L 76.4 806.1 L 42.4 802.9 Z" fill="#b4b2b7"/>
<path d="M 91.9 773.4 L 113.2 772.1 L 130.8 779.6 L 130.8 791.1 L 93.7 791.9 Z" fill="#aeacb1"/>
<path d="M 89.3 783.1 Q 95.5 783.1 99.0 790.2 L 101.7 796.4 M 107.9 784.9 Q 109.6 779.6 120.2 779.6 M 91.1 785.8 Q 95.5 786.6 98.1 791.9" fill="none" stroke="#2a2840" stroke-width="0.53" stroke-linecap="round" stroke-linejoin="round"/>
<circle cx="108.7" cy="790.2" r="1.2" fill="#e02a30"/>
<circle cx="112.3" cy="792.8" r="1.1" fill="#e02a30"/>
<circle cx="116.7" cy="787.5" r="1.1" fill="#e02a30"/>
<circle cx="121.1" cy="791.9" r="0.9" fill="#e02a30"/>
<circle cx="110.0" cy="794.6" r="0.9" fill="#e02a30"/>
<path d="M 52.2 810.0 Q 52.2 802.6 60.1 802.2 Q 68.1 802.6 68.6 810.0 Z" fill="#de2d35"/>
<path d="M 52.2 810.0 L 75.1 810.0 L 75.1 824.7 Q 63.7 828.2 52.2 824.7 Z" fill="#6d6771"/>
<path d="M 52.5 813.2 Q 63.7 815.8 75.0 813.2 M 52.5 817.1 Q 63.7 819.7 75.0 817.1 M 52.5 820.9 Q 63.7 823.6 75.0 820.9 M 52.5 824.7 Q 63.7 827.3 75.0 824.7" fill="none" stroke="#2a2840" stroke-width="0.71" stroke-linecap="round" stroke-linejoin="round"/>
<path d="M 101.7 796.4 L 102.6 814.9 Q 113.2 814.9 112.3 820.2 Q 106.1 824.7 100.8 821.1 Q 101.7 815.8 107.9 815.8 M 106.1 823.8 Q 104.3 832.6 91.9 834.4 Q 84.9 832.6 83.1 830.0" fill="none" stroke="#2a2840" stroke-width="0.53" stroke-linecap="round" stroke-linejoin="round"/>
<path d="M 310.7 735.4 L 330.1 726.5 L 331.0 758.3 L 312.4 758.3 Z" fill="#a5a2a8"/>
<path d="M 473.3 740.7 L 501.6 735.4 L 501.6 783.1 L 476.9 783.1 Z" fill="#a9a6ab"/>
<path d="M 379.6 744.2 L 416.8 742.4 L 416.8 783.1 L 379.6 783.1 Z" fill="#a29fa5"/>
<ellipse cx="397.3" cy="758.3" rx="11.5" ry="5.3" fill="#f0eeee"/>
<path d="M 392.0 738.9 L 411.5 737.1 L 416.8 744.2 L 415.0 753.0 L 390.2 751.3 Z" fill="#aaa7ad"/>
<ellipse cx="409.7" cy="751.3" rx="5.3" ry="3.2" fill="#f3e9e4"/>
<rect x="478.6" y="745.1" width="8.8" height="10.6" rx="1.8" fill="none" stroke="#e0303a" stroke-width="1.41"/>
<path d="M 349.6 753.0 Q 350.5 733.6 358.4 724.8 L 369.0 723.0 Q 376.1 730.1 377.0 753.0 Z" fill="#de2d35"/>
<ellipse cx="365.5" cy="719.8" rx="5.3" ry="6.2" fill="#c9b7bb"/>
<path d="M 358.4 715.9 Q 358.1 708.0 364.6 707.4 Q 370.4 708.5 370.4 715.0 Q 368.1 713.3 364.6 713.8 Q 361.1 715.0 360.2 719.4 Z" fill="#2a2840"/>
<path d="M 358.4 726.5 Q 359.3 737.1 369.0 739.8" fill="none" stroke="#fdeaea" stroke-width="0.66" stroke-linecap="round" stroke-linejoin="round"/>
<path d="M 270.0 779.2 L 475.1 783.1 L 475.1 792.8 L 416.8 797.2 L 270.0 799.0 Z" fill="#fff"/>
<path d="M 270.0 799.0 L 416.8 797.2 L 475.1 792.8 L 475.1 799.0 L 416.8 806.1 L 270.0 813.2 Z" fill="#9b989d"/>
<path d="M 372.6 806.1 L 416.8 803.4" fill="none" stroke="#c77d8a" stroke-width="0.53" stroke-linecap="round" stroke-linejoin="round"/>
<path d="M 270.0 739.3 L 278.8 735.4 L 285.9 745.1 L 296.9 733.6 Q 311.0 742.4 316.3 761.9 L 318.1 775.1 Q 305.4 779.9 293.0 778.2 L 270.0 778.2 Z" fill="#de2d35"/>
<path d="M 278.5 724.8 L 295.1 724.8 Q 295.6 735.4 291.2 741.6 L 285.9 745.1 L 280.6 739.8 Z" fill="#b6adb2"/>
<path d="M 276.2 726.5 Q 275.8 715.0 285.9 715.0 Q 295.8 716.8 295.8 726.5 Q 294.9 732.9 291.2 731.1 Q 285.9 728.3 280.6 732.9 Q 276.4 732.0 276.2 726.5 Z" fill="#2a2840"/>
<path d="M 278.8 735.7 L 285.9 745.6 L 286.3 767.2 M 285.9 745.6 L 296.9 733.9" fill="none" stroke="#fdeaea" stroke-width="0.80" stroke-linecap="round" stroke-linejoin="round"/>
<path d="M 270.0 772.5 Q 280.6 768.1 293.0 770.7 L 303.6 777.8 L 302.7 783.1 L 270.0 783.1 Z" fill="#b0aeb3"/>
<path d="M 282.4 777.8 Q 285.9 775.1 291.2 776.9 M 283.3 780.5 Q 286.8 777.8 292.1 779.6" fill="none" stroke="#2a2840" stroke-width="0.53" stroke-linecap="round" stroke-linejoin="round"/>
<circle cx="280.6" cy="786.6" r="1.2" fill="#e02a30"/>
<circle cx="285.0" cy="784.9" r="1.1" fill="#e02a30"/>
<circle cx="287.7" cy="788.4" r="1.1" fill="#e02a30"/>
<circle cx="279.7" cy="791.1" r="0.9" fill="#e02a30"/>
<circle cx="289.4" cy="785.8" r="0.9" fill="#e02a30"/>
<path d="M 413.2 781.7 Q 412.9 753.0 420.3 741.0 Q 426.0 734.7 433.6 732.9 L 441.9 746.3 L 455.7 731.8 Q 468.0 737.1 473.3 753.0 Q 477.9 770.7 476.2 781.7 Q 464.5 783.5 455.7 781.7 L 453.9 774.6 Z" fill="#de2d35"/>
<path d="M 432.3 723.0 L 450.0 723.0 Q 450.4 735.4 446.8 740.7 L 441.9 746.3 L 436.2 741.6 Q 432.7 735.4 432.3 726.5 Z" fill="#b6adb2"/>
<path d="M 430.0 724.8 Q 429.1 712.4 439.7 712.0 Q 450.4 713.3 450.9 723.9 Q 450.5 729.4 446.8 728.3 Q 442.4 726.5 438.0 728.3 Q 433.0 731.1 430.6 729.4 Z" fill="#2a2840"/>
<path d="M 433.6 733.2 L 441.9 746.9 L 455.7 732.4 M 441.9 746.9 L 442.4 760.1" fill="none" stroke="#fdeaea" stroke-width="0.80" stroke-linecap="round" stroke-linejoin="round"/>
<path d="M 425.6 751.3 L 425.6 765.4 M 461.8 751.3 L 461.8 770.7" fill="none" stroke="#fdeaea" stroke-width="0.66" stroke-linecap="round" stroke-linejoin="round"/>
<path d="M 453.9 774.3 Q 462.7 770.7 473.3 774.3 L 473.3 783.1 L 455.7 782.2 Z" fill="#b0aeb3"/>
<path d="M 473.3 780.5 L 487.5 780.5 L 487.5 791.9 L 473.3 791.9 Z" fill="#8d8a90"/>
<circle cx="402.6" cy="769.0" r="1.6" fill="#e02a30"/>
<circle cx="406.1" cy="770.7" r="1.4" fill="#e02a30"/>
<circle cx="400.8" cy="766.3" r="1.1" fill="#e02a30"/>
<path d="M 280.6 813.2 L 384.9 813.2 L 376.1 831.7 L 287.7 830.8 Z" fill="#fff"/>
<path d="M 287.7 831.7 L 376.1 833.0 L 369.0 841.5 L 289.4 840.6 Z" fill="#c5c3c7"/>
<path d="M 287.7 830.8 L 376.1 832.6" fill="none" stroke="#2a2840" stroke-width="0.53" stroke-linecap="round" stroke-linejoin="round"/>
<path d="M 291.2 843.2 L 337.2 844.1" fill="none" stroke="#c77d8a" stroke-width="0.53" stroke-linecap="round" stroke-linejoin="round"/>
<path d="M 473.3 822.0 L 540.0 822.0 L 540.0 841.5 L 487.5 841.5 Z" fill="#fff"/>
<path d="M 487.5 841.5 L 540.0 842.3" fill="none" stroke="#2a2840" stroke-width="0.53" stroke-linecap="round" stroke-linejoin="round"/>
<path d="M 489.3 853.8 L 540.0 853.8" fill="none" stroke="#c77d8a" stroke-width="0.53" stroke-linecap="round" stroke-linejoin="round"/>
<path d="M 309.8 806.4 Q 312.4 779.6 321.3 767.2 Q 326.9 761.2 333.7 759.2 L 344.3 776.4 L 357.0 759.2 Q 369.0 763.7 374.7 779.6 Q 378.9 795.5 378.2 810.0 Q 369.0 815.3 358.4 813.5 L 355.2 806.4 L 340.7 806.4 Q 328.3 815.3 314.2 813.5 Z" fill="#de2d35"/>
<path d="M 332.2 742.4 L 354.9 742.4 L 354.9 758.3 Q 351.7 769.3 343.4 770.0 Q 335.4 767.5 332.2 751.3 Z" fill="#b6adb2"/>
<path d="M 334.0 759.2 L 356.6 759.2 L 344.3 776.4 Z" fill="#b6adb2"/>
<path d="M 330.1 744.2 Q 329.2 733.6 342.5 731.8 Q 356.6 733.6 357.9 744.2 Q 357.0 751.6 353.1 749.5 Q 347.8 744.2 340.7 745.1 Q 335.4 747.7 331.9 750.6 Q 330.1 747.7 330.1 744.2 Z" fill="#2a2840"/>
<path d="M 333.7 759.6 Q 334.5 770.7 344.3 776.9 Q 354.9 770.7 357.0 759.6 M 344.3 776.9 L 344.3 791.9" fill="none" stroke="#fdeaea" stroke-width="0.80" stroke-linecap="round" stroke-linejoin="round"/>
<path d="M 338.1 759.2 Q 343.4 762.8 348.7 759.2" fill="none" stroke="#c0505a" stroke-width="0.53" stroke-linecap="round" stroke-linejoin="round"/>
<path d="M 326.6 783.1 L 326.2 804.3 M 360.2 781.3 L 360.5 799.0" fill="none" stroke="#fdeaea" stroke-width="0.66" stroke-linecap="round" stroke-linejoin="round"/>
<path d="M 358.4 799.9 Q 363.7 798.1 368.1 799.0" fill="none" stroke="#2a2840" stroke-width="0.53" stroke-linecap="round" stroke-linejoin="round"/>
<path d="M 308.9 800.8 Q 317.7 798.1 326.6 804.3 L 328.3 813.2 L 314.2 816.7 Z" fill="#b0aeb3"/>
<path d="M 340.7 804.3 Q 347.8 800.8 356.6 804.3 L 356.6 813.2 L 342.5 813.2 Z" fill="#b0aeb3"/>
<path d="M 313.3 807.9 L 318.6 814.0 M 316.0 807.0 L 321.3 813.2" fill="none" stroke="#2a2840" stroke-width="0.53" stroke-linecap="round" stroke-linejoin="round"/>
<path d="M 333.7 809.6 Q 337.2 801.7 344.3 802.6 Q 347.8 806.1 344.3 811.4 Q 339.0 814.9 333.7 809.6 Z" fill="#de2d35"/>
<circle cx="334.5" cy="816.7" r="1.2" fill="#e02a30"/>
<circle cx="339.0" cy="814.9" r="1.1" fill="#e02a30"/>
<circle cx="337.2" cy="813.2" r="0.9" fill="#e02a30"/>
<circle cx="346.0" cy="814.0" r="0.9" fill="#e02a30"/>
<path d="M 337.2 834.4 Q 337.2 823.8 349.6 822.9 Q 365.5 823.8 367.2 834.4 L 365.5 850.3 Q 351.3 855.6 339.0 850.3 Z" fill="#6d6771"/>
<path d="M 336.3 823.8 Q 337.2 817.6 346.0 818.1 Q 354.9 818.8 354.9 827.3 L 347.8 831.7 L 337.2 830.0 Z" fill="#de2d35"/>
<path d="M 339.8 846.8 Q 351.3 850.3 364.6 846.8 M 339.0 850.3 Q 351.3 853.8 365.5 850.3 M 339.3 854.2 Q 351.3 857.7 365.5 854.2 M 339.8 857.9 Q 351.3 860.9 364.6 857.9" fill="none" stroke="#2a2840" stroke-width="0.71" stroke-linecap="round" stroke-linejoin="round"/>
<path d="M 484.8 813.5 Q 483.1 784.9 491.0 769.0 Q 498.1 761.2 506.1 760.1 L 514.0 772.8 L 529.9 758.3 L 540.0 761.9 L 540.0 820.6 L 528.2 820.6 L 526.4 810.0 L 489.3 810.0 Z" fill="#de2d35"/>
<path d="M 505.2 744.2 L 526.4 742.4 L 529.2 753.0 Q 526.4 765.8 515.8 768.3 Q 507.8 763.7 505.2 751.3 Z" fill="#b6adb2"/>
<path d="M 506.9 760.1 L 529.9 758.7 L 514.0 772.8 Z" fill="#b6adb2"/>
<path d="M 502.5 746.0 Q 499.9 730.1 515.8 726.5 Q 529.9 728.3 530.5 742.4 Q 529.2 751.6 524.6 749.5 Q 519.3 744.2 513.1 746.9 Q 506.9 751.3 503.4 752.3 Z" fill="#2a2840"/>
<path d="M 506.1 760.5 L 514.0 773.4 L 529.9 758.9 M 514.0 773.4 L 514.4 795.5" fill="none" stroke="#fdeaea" stroke-width="0.80" stroke-linecap="round" stroke-linejoin="round"/>
<path d="M 512.2 758.3 Q 517.5 761.0 523.7 755.7" fill="none" stroke="#2a2840" stroke-width="0.53" stroke-linecap="round" stroke-linejoin="round"/>
<rect x="512.6" y="784.0" width="4.2" height="12.4" rx="1.1" fill="none" stroke="#fdeaea" stroke-width="0.53"/>
<path d="M 498.1 786.6 L 498.1 806.1 M 530.8 783.1 L 531.3 806.1" fill="none" stroke="#fdeaea" stroke-width="0.66" stroke-linecap="round" stroke-linejoin="round"/>
<path d="M 487.5 813.2 Q 499.9 808.7 528.2 810.5 L 528.2 830.8 L 498.1 830.8 Z" fill="#b0aeb3"/>
<path d="M 496.3 818.5 L 503.4 823.8 L 499.9 825.5 L 506.1 822.0 M 489.3 816.7 L 498.1 830.8" fill="none" stroke="#2a2840" stroke-width="0.53" stroke-linecap="round" stroke-linejoin="round"/>
<circle cx="514.0" cy="825.5" r="1.2" fill="#e02a30"/>
<circle cx="517.5" cy="823.8" r="1.1" fill="#e02a30"/>
<circle cx="522.8" cy="822.0" r="1.1" fill="#e02a30"/>
<circle cx="515.8" cy="828.2" r="0.9" fill="#e02a30"/>
<path d="M 512.2 846.8 Q 512.6 834.4 524.6 834.0 Q 537.0 834.7 537.0 846.8 L 536.1 859.1 Q 524.6 861.8 513.1 859.1 Z" fill="#6d6771"/>
<circle cx="531.3" cy="838.8" r="1.8" fill="#cfcdd2"/>
<path d="M 513.1 855.6 Q 524.6 858.3 536.6 855.6 M 513.1 859.1 Q 524.6 861.8 536.6 859.1" fill="none" stroke="#2a2840" stroke-width="0.71" stroke-linecap="round" stroke-linejoin="round"/>
<path d="M68.3 600 V722" stroke="#22202e" stroke-width="2.1" fill="none"/>
<path d="M154 580.5 V640" stroke="#22202e" stroke-width="2.1" fill="none"/>
<path d="M157.4 640 V756" stroke="#22202e" stroke-width="2.1" fill="none"/>
<path d="M78.4 657 V760" stroke="#22202e" stroke-width="2.1" fill="none"/>
<path d="M31 640 V786" stroke="#22202e" stroke-width="2.1" fill="none"/>
<path d="M306.3 598 V800" stroke="#22202e" stroke-width="2.1" fill="none"/>
<path d="M370.5 589 V765" stroke="#22202e" stroke-width="2.1" fill="none"/>
<path d="M413.3 580 V745" stroke="#22202e" stroke-width="2.1" fill="none"/>
<path d="M502.7 603 V762" stroke="#22202e" stroke-width="2.1" fill="none"/>
<path d="M 190.1 795.5 L 206.0 789.3 L 220.1 813.2 L 251.1 784.9 Q 268.8 793.7 281.1 820.2 Q 291.7 845.0 292.6 866.2 L 290.0 892.7 Q 247.5 876.8 228.1 864.4 L 226.3 855.6 Q 227.2 841.5 212.2 830.8 Q 201.6 829.1 199.8 822.0 Q 194.5 806.1 190.1 795.5 Z" fill="#de2d35"/>
<path d="M 212.2 791.9 L 240.5 788.4 L 236.1 779.6 L 222.4 810.5 Z" fill="#b3b1b7"/>
<path d="M 211.3 793.7 L 240.5 789.3 L 222.4 810.5 Z" fill="#b3b1b7"/>
<path d="M 203.3 780.5 L 221.0 772.5 L 233.4 772.5 L 236.4 779.9 Q 233.4 792.3 219.3 795.8 Q 208.6 791.9 203.3 780.5 Z" fill="#b3b1b7"/>
<path d="M 198.0 770.7 Q 196.3 753.0 212.2 747.7 Q 228.1 745.1 236.1 758.3 Q 247.5 756.6 251.1 767.2 Q 251.1 777.8 242.2 779.6 Q 235.2 777.8 233.4 772.5 Q 226.3 770.7 221.0 772.5 Q 212.2 774.3 205.1 779.6 Q 198.9 777.8 198.0 770.7 Z" fill="#2a2840"/>
<path d="M 206.0 789.8 L 220.1 814.0 L 251.1 785.4 M 220.1 814.0 L 221.0 827.3" fill="none" stroke="#fdeaea" stroke-width="0.93" stroke-linecap="round" stroke-linejoin="round"/>
<path d="M 214.8 791.9 Q 224.6 796.4 231.6 784.9" fill="none" stroke="#2a2840" stroke-width="0.93" stroke-linecap="round" stroke-linejoin="round"/>
<path d="M 208.6 781.3 L 213.9 783.1 M 220.1 777.8 L 224.6 778.7" fill="none" stroke="#2a2840" stroke-width="0.80" stroke-linecap="round" stroke-linejoin="round"/>
<rect x="227.2" y="831.2" width="16.8" height="14.5" rx="2.5" fill="none" stroke="#fdeaea" stroke-width="0.95"/>
<path d="M 251.4 825.5 L 255.5 853.8 L 270.0 851.2" fill="none" stroke="#2a2840" stroke-width="1.06" stroke-linecap="round" stroke-linejoin="round"/>
<path d="M 224.6 855.6 L 244.0 857.4 L 245.8 871.5 L 228.1 864.4 Z" fill="#b0aeb3"/>
<path d="M 0.0 788.4 L 8.8 783.1 L 17.7 781.3 Q 33.6 788.4 42.4 806.1 Q 49.9 827.3 47.7 850.3 Q 35.4 859.1 21.2 857.4 L 7.1 853.8 L 0.0 855.6 Z" fill="#de2d35"/>
<path d="M 0.0 776.0 L 9.7 775.1 Q 10.6 783.1 5.3 788.4 L 0.0 789.3 Z" fill="#b3b1b7"/>
<path d="M 0.0 750.4 Q 7.1 751.3 8.0 760.1 Q 17.7 761.0 19.4 770.7 Q 18.6 778.7 10.6 779.6 Q 5.3 777.8 3.5 774.3 Q 1.8 777.8 0.0 777.8 Z" fill="#2a2840"/>
<path d="M 17.7 782.2 Q 17.7 795.5 7.1 801.7 L 0.0 804.3 M 0.0 809.6 L 16.8 808.7 L 17.7 820.2 Q 12.4 826.4 0.0 825.5 M 21.2 813.2 L 23.9 837.9" fill="none" stroke="#fdeaea" stroke-width="0.93" stroke-linecap="round" stroke-linejoin="round"/>
<path d="M 8.8 838.8 L 32.7 837.6" fill="none" stroke="#2a2840" stroke-width="0.93" stroke-linecap="round" stroke-linejoin="round"/>
<path d="M 0.0 781.3 Q 2.7 784.0 4.4 781.3" fill="none" stroke="#2a2840" stroke-width="0.80" stroke-linecap="round" stroke-linejoin="round"/>
<path d="M 0.0 837.9 L 8.0 838.8 L 8.8 852.1 L 0.0 853.8 Z" fill="#b0aeb3"/>
<path d="M 0.0 899.0 L 100.8 879.5 L 91.2 890.0 L 70.0 915.5 L 74.2 932.4 L 82.7 953.6 L 76.4 966.4 L 59.4 986.5 L 57.3 974.8 L 55.2 953.6 L 50.9 940.9 L 44.5 927.1 L 37.1 917.6 L 13.8 921.8 L 14.8 932.4 L 10.6 939.8 L 0.0 938.8 Z" fill="#2a2840"/>
<path d="M 0.0 856.4 L 100.8 850.2 L 100.8 868.3 L 0.0 878.9 Z" fill="#fff"/>
<path d="M 0.0 878.9 L 100.8 868.3 L 100.8 880.6 L 0.0 900.1 Z" fill="#dcdcde"/>
<path d="M 49.5 853.8 Q 53.0 845.0 63.7 841.5 Q 79.6 839.7 91.9 850.3 Q 95.5 859.1 91.9 866.2 Q 79.6 873.3 67.2 869.7 Q 61.9 862.7 49.5 853.8 Z" fill="#b5b3b8"/>
<ellipse cx="62.8" cy="839.7" rx="3.9" ry="6.7" fill="#e02a35" transform="rotate(55 62.8 839.7)"/>
<ellipse cx="70.7" cy="841.5" rx="3.9" ry="7.1" fill="#e02a35" transform="rotate(35 70.7 841.5)"/>
<ellipse cx="77.8" cy="845.9" rx="3.9" ry="6.4" fill="#e02a35" transform="rotate(20 77.8 845.9)"/>
<ellipse cx="4.4" cy="858.3" rx="3.2" ry="2.1" fill="#e02a35"/>
<path d="M 68.1 895.3 Q 83.1 891.8 99.1 895.3 L 98.2 912.1 Q 83.1 916.5 69.0 912.1 Z" fill="#6d6771"/>
<path d="M 68.6 896.2 Q 83.1 900.1 98.7 896.2 M 68.6 900.6 Q 83.1 904.5 98.7 900.6 M 69.0 905.0 Q 83.1 908.9 98.3 905.0 M 69.0 909.5 Q 83.1 913.4 98.3 909.5 M 69.3 913.2 Q 83.1 916.7 98.0 913.2" fill="none" stroke="#2a2840" stroke-width="1.59" stroke-linecap="round" stroke-linejoin="round"/>
<path d="M 13.8 921.8 L 37.1 917.6 Q 44.5 927.1 50.9 940.9 Q 55.2 953.6 55.7 962.7 L 6.4 956.3 L 10.6 940.9 Q 14.8 932.4 13.8 921.8 Z" fill="#de2d35"/>
<path d="M 0.0 938.8 L 10.6 940.9 L 6.4 956.3 L 4.2 958.9 L 5.3 970.6 L 0.0 971.1 Z" fill="#bab8bd"/>
<path d="M 0.0 949.4 Q 2.1 949.9 3.7 952.0" fill="none" stroke="#2a2840" stroke-width="0.53" stroke-linecap="round" stroke-linejoin="round"/>
<path d="M 6.4 956.3 L 55.7 962.7 L 57.8 974.8 L 58.9 986.5 L 24.4 996.1 L 0.0 999.2 L 0.0 971.1 L 5.3 970.6 L 4.2 958.9 Z" fill="#6a6470"/>
<path d="M 0.0 999.2 L 24.4 996.1 L 53.0 1002.4 L 55.2 1017.3 L 0.0 1017.3 Z" fill="#de2d35"/>
<path d="M 0.0 998.2 L 26.5 996.4 L 53.1 1001.8 L 53.1 1010.6 Q 54.8 1023.0 65.4 1038.9 L 58.4 1030.1 L 0.0 1047.7 Z" fill="#de2d35"/>
<path d="M 269.7 905.9 L 330.2 878.3 L 525.5 885.2 L 525.5 902.5 L 452.9 938.8 L 304.2 928.4 L 269.7 923.2 Z" fill="#fff"/>
<path d="M 451.2 938.8 L 525.5 902.5 L 525.5 912.9 L 451.2 949.2 Z" fill="#d8d8da"/>
<path d="M 304.2 928.4 L 451.2 939.5" fill="none" stroke="#2a2840" stroke-width="1.30" stroke-linecap="round" stroke-linejoin="round"/>
<path d="M 451.2 949.2 L 511.7 919.8 L 511.7 933.6 L 451.2 961.3 Z" fill="#de2d35"/>
<path d="M 461.5 944.0 Q 490.9 933.6 511.0 919.8" fill="none" stroke="#2a2840" stroke-width="3.11" stroke-linecap="round" stroke-linejoin="round"/>
<path d="M 449.4 958.5 L 540.0 912.2" fill="none" stroke="#2a2840" stroke-width="1.30" stroke-linecap="round" stroke-linejoin="round"/>
<path d="M 388.8 933.0 L 395.4 933.0 L 395.4 1128.0 L 388.8 1128.0 Z" fill="#fff"/>
<path d="M 466.7 938.8 L 467.4 1097.8 L 520.3 1106.5 L 540.0 1092.6 M 520.3 1106.5 L 519.6 902.5" fill="none" stroke="#fff" stroke-width="1.73" stroke-linecap="round" stroke-linejoin="round"/>
<path d="M 261.0 890.5 L 291.0 890.5 L 270.0 907.0 L 265.0 907.0 Z" fill="#fff"/>
<path d="M 288.7 926.7 Q 304.2 944.0 328.4 933.6 Q 331.9 929.4 330.2 926.7 Z" fill="#2a2840"/>
<path d="M 269.7 905.2 L 312.9 880.0 Q 325.0 878.3 333.6 885.2 Q 349.2 892.1 348.5 904.2 Q 342.3 911.1 337.1 909.4 Q 337.1 926.7 325.0 930.8 Q 311.1 933.6 304.2 919.8 L 273.1 906.6 Z" fill="#6d6771"/>
<path d="M 269.7 905.9 L 297.3 909.4 Q 309.4 912.9 309.4 921.5 Q 307.7 928.4 300.8 928.4 L 269.7 923.9 Z" fill="#d8d8da"/>
<path d="M 321.5 883.5 Q 331.9 886.9 337.1 882.4 Q 342.3 879.0 356.1 877.6" fill="none" stroke="#2a2840" stroke-width="1.56" stroke-linecap="round" stroke-linejoin="round"/>
<path d="M 452.9 905.9 Q 463.3 892.1 484.0 889.3 L 508.2 892.1 L 509.9 902.5 Q 490.9 899.0 480.5 909.4 Q 473.6 919.8 463.3 918.0 Q 452.9 914.6 452.9 905.9 Z" fill="#c8c7cb"/>
<path d="M 452.9 926.7 Q 484.0 916.3 508.2 902.5 L 525.5 902.5 L 452.9 938.8 Z" fill="#dcdcde"/>
<path d="M 361.1 876.8 Q 361.9 850.3 372.6 827.3 Q 384.9 809.6 411.5 802.6 L 416.8 823.8 L 432.7 830.8 L 457.4 823.8 L 457.4 802.6 Q 478.6 809.6 485.7 834.4 Q 491.0 859.1 486.6 885.7 Q 473.3 891.0 455.7 890.1 L 439.7 883.9 L 439.7 869.7 L 416.8 864.4 L 392.0 857.4 L 388.5 869.7 L 404.4 889.2 L 416.8 894.5 L 415.0 901.6 L 404.4 901.6 Q 384.9 894.5 369.0 887.4 Z" fill="#de2d35"/>
<path d="M 419.9 803.4 L 453.9 800.4 L 432.8 830.5 Z" fill="#b3b1b7"/>
<path d="M 417.6 793.7 L 436.2 784.0 L 445.0 792.8 L 452.1 791.9 Q 450.4 806.1 439.7 811.4 Q 425.6 813.2 420.3 804.3 Z" fill="#b3b1b7"/>
<path d="M 415.0 791.9 Q 411.5 774.3 423.8 765.4 Q 438.0 760.1 448.6 769.0 Q 455.7 777.8 453.9 786.6 Q 450.4 795.5 445.0 792.8 Q 441.5 784.9 436.2 783.1 Q 429.1 788.4 420.3 793.7 Z" fill="#2a2840"/>
<path d="M 412.3 802.6 L 414.1 823.8 Q 422.1 827.3 432.3 831.2 Q 446.8 830.0 457.4 823.8 L 457.8 802.9 M 432.3 831.2 L 431.8 859.1" fill="none" stroke="#fdeaea" stroke-width="0.93" stroke-linecap="round" stroke-linejoin="round"/>
<path d="M 419.4 803.4 Q 429.1 814.9 442.4 808.7 Q 445.0 806.1 445.9 802.6" fill="none" stroke="#2a2840" stroke-width="1.06" stroke-linecap="round" stroke-linejoin="round"/>
<path d="M 427.4 796.4 L 427.0 805.2" fill="none" stroke="#2a2840" stroke-width="0.93" stroke-linecap="round" stroke-linejoin="round"/>
<circle cx="435.3" cy="797.2" r="0.9" fill="#2a2840"/>
<rect x="437.1" y="847.1" width="15.9" height="14.1" rx="2.5" fill="none" stroke="#fdeaea" stroke-width="0.95"/>
<circle cx="427.4" cy="840.0" r="1.9" fill="#ece6e6"/>
<circle cx="427.4" cy="859.5" r="1.9" fill="#ece6e6"/>
<path d="M 416.8 836.1 L 416.8 855.6" fill="none" stroke="#fdeaea" stroke-width="0.93" stroke-linecap="round" stroke-linejoin="round"/>
<path d="M 464.5 837.9 Q 461.8 850.3 461.8 864.4 M 471.6 866.2 Q 457.4 863.6 440.6 867.1" fill="none" stroke="#2a2840" stroke-width="1.06" stroke-linecap="round" stroke-linejoin="round"/>
<path d="M 377.9 863.6 L 380.5 866.2 L 383.2 864.4" fill="none" stroke="#2a2840" stroke-width="0.80" stroke-linecap="round" stroke-linejoin="round"/>
<path d="M 387.6 869.7 L 392.0 857.4 L 416.8 864.4 L 439.7 869.7 L 439.7 883.9 L 429.1 887.4 L 420.3 892.7 L 407.9 890.1 Z" fill="#b3b1b7"/>
<path d="M 409.7 876.8 Q 411.5 869.7 420.3 867.1 M 412.3 882.1 Q 414.1 875.0 422.1 872.4 M 411.5 890.1 L 409.7 878.6" fill="none" stroke="#2a2840" stroke-width="1.06" stroke-linecap="round" stroke-linejoin="round"/>
<path d="M 400.0 892.7 Q 407.9 885.7 415.0 892.7 Q 417.6 901.6 411.5 905.1 Q 404.4 905.1 400.0 898.0 Z" fill="#de2d35"/>
<path d="M 416.8 893.6 Q 425.6 896.3 436.2 893.6" fill="none" stroke="#e23a40" stroke-width="0.53" stroke-linecap="round" stroke-linejoin="round"/>
<path d="M 429.1 886.5 L 437.1 891.8" fill="none" stroke="#2a2840" stroke-width="1.33" stroke-linecap="round" stroke-linejoin="round"/>
<path d="M 420.3 880.4 L 439.7 880.4 L 439.7 885.7 L 420.3 885.7 Z" fill="#e89a9e" opacity="0.6"/>
<path d="M 393.8 898.0 L 400.0 908.6 M 397.3 898.9 L 404.4 905.1" fill="none" stroke="#2a2840" stroke-width="0.80" stroke-linecap="round" stroke-linejoin="round"/>
<path d="M 389.1 943.4 Q 366.1 966.4 364.4 1001.8 L 364.4 1023.0 L 389.1 1027.4 Z" fill="#de2d35"/>
<path d="M 382.0 954.9 L 389.1 954.9 M 382.0 962.8 L 389.1 962.8 M 382.0 969.9 L 389.1 969.9" fill="none" stroke="#2a2840" stroke-width="2.39" stroke-linecap="round" stroke-linejoin="round"/>
<path d="M 403.3 954.0 Q 419.2 949.6 435.1 954.0 L 434.2 1010.6 Q 419.2 1017.7 403.3 1013.2 Z" fill="#6d6771"/>
<path d="M 404.2 959.3 Q 419.2 962.8 434.2 959.3 M 404.2 966.4 Q 419.2 969.9 434.2 966.4 M 404.2 974.3 Q 419.2 977.9 434.2 974.3 M 404.2 1007.9 Q 419.2 1011.5 433.3 1007.9 M 404.2 1013.2 Q 419.2 1016.8 433.3 1012.4" fill="none" stroke="#2a2840" stroke-width="2.65" stroke-linecap="round" stroke-linejoin="round"/>
<path d="M 402.4 951.9 Q 419.2 947.8 435.5 953.1 Q 419.2 957.5 402.4 955.8 Z" fill="#6a6470"/>
<path d="M 498.8 1038.9 L 499.7 1014.1 Q 502.3 1001.8 514.7 1000.9 L 540.0 1001.8 L 540.0 1038.9 Z" fill="#de2d35"/>
<path d="M 470.5 1082.2 Q 472.3 1069.0 488.2 1058.4 Q 491.7 1047.7 495.2 1041.5 L 540.0 1041.5 L 540.0 1082.2 Z" fill="#de2d35"/>
<path d="M 498.8 1040.3 L 540.0 1040.3" fill="none" stroke="#8f9bb0" stroke-width="1.42" stroke-linecap="round" stroke-linejoin="round"/>
<circle cx="497.9" cy="1036.2" r="3.5" fill="none" stroke="#6d6771" stroke-width="1"/>
<circle cx="527.1" cy="996.8" r="2.5" fill="none" stroke="#2a2840" stroke-width="1"/>
<path d="M 0.0 1047.7 L 62.2 1028.7 L 269.7 1007.9 L 392.4 1029.7 L 242.0 1104.7 L 193.6 1128.9 L 0.0 1128.9 Z" fill="#fff"/>
<path d="M 260.0 1095.5 L 392.7 1030.9 L 392.7 1049.5 L 260.0 1116.7 Z" fill="#dbdbdd"/>
<path d="M 194.6 1127.7 L 280.0 1084.0 L 280.0 1107.9 L 240.6 1127.7 Z" fill="#dbdbdd"/>
<path d="M 260.0 1116.7 L 344.9 1075.2 Q 353.7 1099.0 353.7 1127.7 L 260.0 1127.7 Z" fill="#de2d35"/>
<path d="M 240.6 1127.7 L 280.0 1107.9 L 280.0 1127.7 Z" fill="#de2d35"/>
<path d="M 192.8 1054.8 L 283.0 1054.8 L 283.0 1086.7 L 240.6 1103.5 Q 221.1 1081.3 190.1 1062.8 Z" fill="#b6b4b9"/>
<path d="M 260.0 1054.8 Q 286.5 1058.4 306.3 1071.1 L 308.1 1072.3 L 260.0 1096.0 L 238.8 1106.1 L 238.8 1054.8 Z" fill="#b6b4b9"/>
<path d="M 254.7 1030.1 L 283.0 1023.0 L 283.0 1055.7 L 194.6 1055.7 L 192.8 1048.1 Z" fill="#de2d35"/>
<path d="M 260.0 1023.0 Q 286.5 1015.0 306.0 1015.9 Q 313.1 1017.7 313.1 1023.0 L 317.5 1061.9 Q 316.6 1067.2 311.3 1069.0 L 306.3 1071.1 Q 286.5 1058.4 260.0 1054.8 Z" fill="#de2d35"/>
<path d="M 260.0 931.0 L 269.7 931.0 Q 271.5 975.2 267.1 1007.1 L 260.0 1023.0 Z" fill="#de2d35"/>
<path d="M 148.6 862.6 Q 123.8 873.2 109.7 888.8 L 101.9 911.2 L 93.2 932.5 L 82.6 953.7 L 80.5 960.1 L 270.6 960.1 Q 270.6 910.3 256.5 883.8 Q 244.1 869.7 224.6 864.4 L 171.6 902.4 Z" fill="#de2d35"/>
<path d="M 92.9 930.1 L 270.6 930.1 L 269.7 984.1 Q 268.9 1007.1 254.7 1030.1 L 192.8 1048.1 L 168.0 1051.3 L 162.7 1023.0 L 127.4 1019.4 L 127.4 975.2 L 123.8 975.2 L 115.0 996.4 Q 99.1 992.9 88.4 1000.0 Q 79.6 1007.1 77.8 1030.1 L 65.4 1038.9 Q 53.1 1030.1 52.2 1010.6 L 53.1 1001.8 L 59.3 986.5 L 76.4 966.4 L 82.6 954.0 Z" fill="#de2d35"/>
<path d="M 123.8 975.2 L 113.2 998.2 Q 123.8 1008.8 127.4 1019.4 L 127.7 975.2 Z" fill="#98969a"/>
<path d="M 164.5 867.5 Q 178.6 864.4 184.0 848.4 Q 194.6 837.8 203.4 843.1 Q 212.3 855.5 223.8 862.9 L 225.5 865.2 L 171.6 902.4 L 168.0 880.3 Z" fill="#b3b1b7"/>
<path d="M 135.3 834.3 Q 141.5 823.7 149.5 821.0 Q 159.2 819.3 166.3 824.6 Q 175.1 829.9 182.2 836.1 Q 185.7 841.4 184.8 848.4 L 182.2 855.5 Q 176.9 866.1 164.5 867.5 Q 155.7 864.4 150.3 859.1 Q 141.5 850.2 135.3 834.3 Z" fill="#b3b1b7"/>
<path d="M 131.8 832.5 Q 130.9 806.0 145.0 792.7 Q 159.2 783.0 175.1 786.5 Q 189.3 791.0 196.3 807.8 Q 199.9 820.1 200.8 829.9 Q 217.6 830.8 224.6 843.1 Q 228.2 855.5 223.8 862.6 Q 215.8 859.1 208.7 852.0 Q 203.4 839.6 192.8 834.3 Q 189.3 830.8 187.5 834.3 Q 188.4 827.2 182.2 825.4 Q 176.9 827.2 176.9 834.3 Q 173.3 827.2 164.5 823.7 Q 153.9 818.4 148.6 821.9 Q 139.7 827.2 134.4 834.3 Z" fill="#2a2840"/>
<path d="M 138.9 837.8 Q 143.3 835.2 147.7 837.8 M 155.7 836.4 Q 160.1 833.9 164.5 836.4" fill="none" stroke="#2a2840" stroke-width="1.06" stroke-linecap="round" stroke-linejoin="round"/>
<path d="M 148.2 842.2 Q 147.7 852.0 151.2 853.7 Q 155.7 852.9 158.3 849.3" fill="none" stroke="#2a2840" stroke-width="1.06" stroke-linecap="round" stroke-linejoin="round"/>
<path d="M 153.0 859.9 Q 164.5 868.8 176.9 860.8 Q 183.1 856.4 184.0 848.4" fill="none" stroke="#2a2840" stroke-width="1.06" stroke-linecap="round" stroke-linejoin="round"/>
<path d="M 149.1 861.8 L 154.0 861.0 L 165.8 869.4 L 172.6 906.8 L 150.6 895.2 Z" fill="#de2d35"/>
<path d="M 225.1 864.1 L 214.8 862.6 L 173.1 903.8 L 199.0 901.5 L 212.5 889.4 Z" fill="#de2d35"/>
<path d="M 148.9 863.5 Q 147.7 880.3 150.3 894.4 Q 159.2 899.7 171.6 902.9 L 171.9 960.1" fill="none" stroke="#fdeaea" stroke-width="1.24" stroke-linecap="round" stroke-linejoin="round"/>
<path d="M 171.6 902.9 Q 191.0 902.4 199.9 899.7 Q 214.0 883.8 225.0 865.6" fill="none" stroke="#fdeaea" stroke-width="1.24" stroke-linecap="round" stroke-linejoin="round"/>
<path d="M 170.7 931.0 L 171.2 1019.4" fill="none" stroke="#fdeaea" stroke-width="1.24" stroke-linecap="round" stroke-linejoin="round"/>
<rect x="123.8" y="938.1" width="23.0" height="23.9" rx="4.4" fill="none" stroke="#fdeaea" stroke-width="1.27"/>
<rect x="186.6" y="937.2" width="24.8" height="26.5" rx="4.4" fill="none" stroke="#fdeaea" stroke-width="1.27"/>
<path d="M 123.8 938.1 L 146.8 942.0 L 146.8 936.3 L 123.8 935.4 Z" fill="#de2d35"/>
<path d="M 185.7 936.7 L 212.3 936.7 L 212.3 939.0 L 185.7 939.0 Z" fill="#de2d35"/>
<circle cx="165.0" cy="950.1" r="2.5" fill="#8e9aa8"/>
<circle cx="165.0" cy="973.5" r="2.5" fill="#8e9aa8"/>
<circle cx="165.0" cy="994.3" r="2.5" fill="#8e9aa8"/>
<circle cx="165.0" cy="1017.3" r="2.5" fill="#8e9aa8"/>
<circle cx="165.0" cy="927.7" r="2.5" fill="#8e9aa8"/>
<path d="M 126.5 913.9 Q 120.3 936.9 122.0 960.1" fill="none" stroke="#2a2840" stroke-width="1.06" stroke-linecap="round" stroke-linejoin="round"/>
<path d="M 122.0 931.0 Q 122.0 957.5 124.2 975.2 L 115.0 996.4" fill="none" stroke="#2a2840" stroke-width="1.06" stroke-linecap="round" stroke-linejoin="round"/>
<path d="M 222.5 926.3 L 219.3 960.1" fill="none" stroke="#2a2840" stroke-width="1.06" stroke-linecap="round" stroke-linejoin="round"/>
<path d="M 219.3 931.0 Q 217.6 966.4 214.0 998.2 Q 203.4 1000.9 196.3 1007.1" fill="none" stroke="#2a2840" stroke-width="1.06" stroke-linecap="round" stroke-linejoin="round"/>
<path d="M 194.6 1047.7 Q 229.9 1044.2 252.9 1031.5" fill="none" stroke="#2a2840" stroke-width="1.06" stroke-linecap="round" stroke-linejoin="round"/>
<path d="M 77.8 1030.1 Q 77.8 1007.1 92.0 998.2 Q 106.1 994.7 115.0 998.2 Q 123.8 1008.8 127.4 1019.4 L 130.9 1023.0 L 120.3 1035.4 L 123.8 1044.2 L 139.7 1046.0 L 152.1 1053.0 L 155.7 1058.4 Q 141.5 1058.4 106.1 1053.0 L 99.1 1040.7 Q 88.4 1030.1 77.8 1030.1 Z" fill="#2a2840"/>
<path d="M 99.9 977.0 L 100.1 998.2 M 104.7 989.4 L 102.9 996.4" fill="none" stroke="#f9e3e3" stroke-width="1.06" stroke-linecap="round" stroke-linejoin="round"/>
<path d="M 120.3 1035.4 Q 123.8 1024.7 134.4 1019.4 L 162.7 1022.1 L 168.0 1051.3 L 152.1 1053.0 L 139.7 1046.0 L 123.8 1044.2 Z" fill="#b3b1b7"/>
<path d="M 65.4 1038.9 L 77.8 1030.1 Q 92.0 1030.1 99.1 1040.7 L 106.1 1053.0 L 109.7 1061.9 Q 106.1 1072.5 95.5 1077.8 Q 84.9 1081.3 76.1 1090.2 L 51.3 1081.3 Q 58.4 1069.0 74.3 1054.8 Z" fill="#b3b1b7"/>
<path d="M 122.0 1033.6 Q 127.4 1029.2 134.4 1028.3 M 123.8 1038.9 Q 129.1 1034.5 136.2 1033.6 M 126.5 1044.2 Q 131.8 1039.8 138.0 1039.3 M 152.1 1053.0 L 156.5 1058.7" fill="none" stroke="#2a2840" stroke-width="1.33" stroke-linecap="round" stroke-linejoin="round"/>
<path d="M 77.8 1042.4 Q 81.4 1045.1 82.2 1049.5 M 85.8 1038.9 Q 89.3 1042.4 90.2 1046.9 M 93.7 1037.1 Q 97.3 1040.7 98.2 1045.1" fill="none" stroke="#2a2840" stroke-width="1.33" stroke-linecap="round" stroke-linejoin="round"/>
<path d="M 93.7 1056.6 Q 102.6 1053.9 108.8 1056.9 Q 115.0 1067.2 134.4 1074.3 Q 159.2 1078.7 162.4 1070.7 Q 160.1 1061.9 139.7 1053.9" fill="none" stroke="#2a2840" stroke-width="1.33" stroke-linecap="round" stroke-linejoin="round"/>
<path d="M 0.0 1051.3 Q 10.6 1051.3 19.5 1058.4 Q 23.0 1065.4 17.7 1070.7 L 23.0 1086.7 Q 28.3 1084.9 31.8 1079.6 Q 40.7 1074.3 49.5 1081.3 L 74.3 1102.6 L 58.4 1127.7 L 0.0 1127.7 Z" fill="#de2d35"/>
<path d="M 10.6 1070.7 L 26.5 1074.3 L 19.5 1078.7 Z" fill="#fff"/>
<circle cx="6.2" cy="1061.9" r="2.1" fill="#fff"/>
<circle cx="29.2" cy="1071.6" r="4.4" fill="#de2d35"/>
<path d="M 19.5 1090.2 L 28.3 1101.7 L 50.4 1083.1" fill="none" stroke="#2a2840" stroke-width="1.33" stroke-linecap="round" stroke-linejoin="round"/>
<circle cx="113.2" cy="1088.4" r="7.4" fill="#de2d35"/>
<path d="M 88.4 1081.3 Q 99.1 1084.9 104.4 1092.0" fill="none" stroke="#2a2840" stroke-width="1.06" stroke-linecap="round" stroke-linejoin="round"/>
<path d="M 107.9 1094.6 L 103.5 1099.9" fill="none" stroke="#de2d35" stroke-width="0.88" stroke-linecap="round" stroke-linejoin="round"/>
<path d="M 396.3 822.0 Q 396.3 819.0 398.6 819.0 Q 400.9 819.0 400.9 822.0 L 401.4 900.0 L 401.8 960.0 L 401.8 1128.0 L 395.4 1128.0 L 395.4 960.0 L 395.8 900.0 Z" fill="#2a2840"/>
<path d="M 508.7 774.3 L 508.7 889.2" fill="none" stroke="#22202e" stroke-width="2.12" stroke-linecap="round" stroke-linejoin="round"/>
<path d="M 80.5 700.0 L 81.3 846.8" fill="none" stroke="#3a3745" stroke-width="0.53" stroke-linecap="round" stroke-linejoin="round"/>
<path d="M 80.5 791.9 L 81.3 846.8" fill="none" stroke="#e8e6ea" stroke-width="0.53" stroke-linecap="round" stroke-linejoin="round"/>
</g></svg>
<div class="t n" style="left:0;top:82.20px;font-size:79.5px;line-height:79.5px;color:#df2c20;font-weight:700"><span style="left:39.26px;transform:scaleX(0.9124)">Child</span> <span style="left:240.60px;transform:scaleX(0.8800)">Rights</span> <span style="left:478.47px;transform:scaleX(0.9311)">Action</span> <span style="left:729.07px;transform:scaleX(0.9451)">Hub</span></div>
<div class="t n" style="left:0;top:309.62px;font-size:36.6px;line-height:36.6px;color:#000;font-weight:700;"><span style="left:39.43px;transform:scaleX(0.9356)">PROGRESS</span> <span style="left:243.99px;transform:scaleX(1.0079)">OVERVIEW</span></div>
<div class="t n" style="left:0;top:352.40px;font-size:25.4px;line-height:25.4px;color:#000;"><span style="left:40.20px;transform:scaleX(0.9139)">AS</span> <span style="left:77.45px;transform:scaleX(0.9541)">OF</span> <span style="left:117.77px;transform:scaleX(0.9333)">OCTOBER</span> <span style="left:243.60px;transform:scaleX(1.0529)">31,</span> <span style="left:287.45px;transform:scaleX(1.0494)">2024</span></div>
<div class="t" style="left:40.47px;top:170.70px;font-size:79.5px;line-height:79.5px;color:#df2c20;transform:scaleX(0.9069);font-weight:700;">Bangladesh</div>
<div class="t" style="left:1311.40px;top:52.63px;font-size:38.6px;line-height:38.6px;color:#e0291f;transform:scaleX(0.9917);font-weight:700;-webkit-text-stroke:0.8px #e0291f;">THE CENTRE</div>
<div class="t" style="left:1311.67px;top:90.52px;font-size:13.8px;line-height:13.8px;color:#8a8a8a;transform:scaleX(1.0302);">FOR CHILD RIGHTS AND BUSINESS</div>
<div class="t" style="left:614.60px;top:380.71px;font-size:27.4px;line-height:27.4px;color:#000;transform:scaleX(1.0431);">staff from 50 sub-contractors</div>
<div class="t" style="left:614.60px;top:413.11px;font-size:27.4px;line-height:27.4px;color:#000;transform:scaleX(0.9711);">trained on CLPR</div>
<div class="t" style="left:1123.97px;top:380.71px;font-size:27.4px;line-height:27.4px;color:#000;transform:scaleX(1.0320);">relevant stakeholders included in</div>
<div class="t" style="left:1125.00px;top:413.11px;font-size:27.4px;line-height:27.4px;color:#000;transform:scaleX(1.0164);">the research</div>
<div class="t" style="left:613.57px;top:680.11px;font-size:27.4px;line-height:27.4px;color:#000;transform:scaleX(1.0305);">child labour cases integrated into</div>
<div class="t" style="left:614.60px;top:713.11px;font-size:27.4px;line-height:27.4px;color:#000;transform:scaleX(1.0493);">the remediation programme</div>
<div class="t" style="left:1123.97px;top:680.11px;font-size:27.4px;line-height:27.4px;color:#000;transform:scaleX(1.0338);">buyers supported</div>
<div class="t" style="left:1123.92px;top:713.11px;font-size:27.4px;line-height:27.4px;color:#000;transform:scaleX(1.0804);">different initiatives</div>
<div class="t" style="left:614.60px;top:980.11px;font-size:27.4px;line-height:27.4px;color:#000;transform:scaleX(1.0561);">focal points trained to identify</div>
<div class="t" style="left:613.58px;top:1013.11px;font-size:27.4px;line-height:27.4px;color:#000;transform:scaleX(1.0230);">and address child labour in the</div>
<div class="t" style="left:613.53px;top:1045.21px;font-size:27.4px;line-height:27.4px;color:#000;transform:scaleX(1.0704);">lower-tiers</div>
<div class="t" style="left:1125.00px;top:980.11px;font-size:27.4px;line-height:27.4px;color:#000;transform:scaleX(1.0022);">young workers now have access</div>
<div class="t" style="left:1125.00px;top:1013.11px;font-size:27.4px;line-height:27.4px;color:#000;transform:scaleX(1.0480);">to decent work</div>
<div class="t n" style="left:0;top:228.16px;font-size:140.99px;line-height:140.99px;color:#df2c20;font-weight:700;-webkit-text-stroke:4.0px #df2c20;"><span style="left:619.50px;transform:scaleX(1.0000)">8</span><span style="left:713.11px;transform:scaleX(0.9718)">5</span></div>
<div class="t n" style="left:0;top:228.16px;font-size:140.99px;line-height:140.99px;color:#df2c20;font-weight:700;-webkit-text-stroke:4.0px #df2c20;"><span style="left:1129.50px;transform:scaleX(1.0000)">8</span><span style="left:1216.56px;transform:scaleX(1.0882)">0</span><span style="left:1311.40px;top:11.35px;font-size:118.43px;line-height:118.43px;-webkit-text-stroke:8.0px #df2c20;transform:scaleX(1.0246)">+</span></div>
<div class="t n" style="left:0;top:522.39px;font-size:139.30px;line-height:139.30px;color:#df2c20;font-weight:700;-webkit-text-stroke:4.0px #df2c20;"><span style="left:619.44px;transform:scaleX(1.0143)">8</span><span style="left:704.26px;transform:scaleX(0.9478)">7</span></div>
<div class="t n" style="left:0;top:522.39px;font-size:139.30px;line-height:139.30px;color:#df2c20;font-weight:700;-webkit-text-stroke:4.0px #df2c20;"><span style="left:1129.44px;transform:scaleX(1.0143)">8</span></div>
<div class="t n" style="left:0;top:822.34px;font-size:138.29px;line-height:138.29px;color:#df2c20;font-weight:700;-webkit-text-stroke:4.0px #df2c20;"><span style="left:617.60px;top:8.95px;font-size:121.23px;line-height:121.23px;-webkit-text-stroke:16.97px #df2c20;transform:scaleX(0.7199);clip-path:polygon(-2.0px 8.3px,53.9px 8.3px,53.9px 113.1px,19.4px 113.1px,19.4px 72.4px,-2.0px 72.4px)">1</span><span style="left:675.11px;transform:scaleX(0.9714)">5</span></div>
<div class="t n" style="left:0;top:817.96px;font-size:147.00px;line-height:147.00px;color:#df2c20;font-weight:700;"><span style="left:1124.07px;transform:scaleX(0.9859)">2</span><span style="left:1207.44px;transform:scaleX(1.0316)">4</span></div>
</body></html>
